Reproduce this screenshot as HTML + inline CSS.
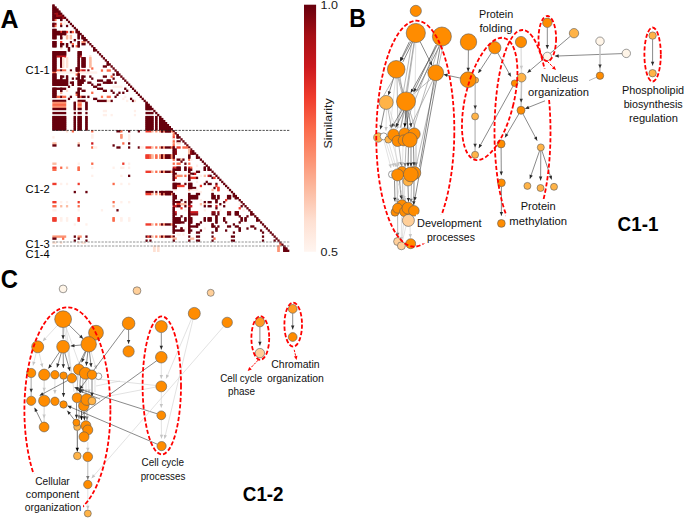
<!DOCTYPE html><html><head><meta charset="utf-8"><title>Figure</title><style>html,body{margin:0;padding:0;background:#fff;}body{width:685px;height:519px;overflow:hidden;font-family:"Liberation Sans",sans-serif;}</style></head><body><svg width="685" height="519" viewBox="0 0 685 519" style="display:block">
<defs><linearGradient id="cb" x1="0" y1="0" x2="0" y2="1"><stop offset="0" stop-color="#67000d"/><stop offset="0.125" stop-color="#a50f15"/><stop offset="0.25" stop-color="#cb181d"/><stop offset="0.375" stop-color="#ef3b2c"/><stop offset="0.5" stop-color="#fb6a4a"/><stop offset="0.625" stop-color="#fc9272"/><stop offset="0.75" stop-color="#fcbba1"/><stop offset="0.875" stop-color="#fee0d2"/><stop offset="1" stop-color="#fff5f0"/></linearGradient></defs>
<rect width="685" height="519" fill="#fff"/>
<g shape-rendering="auto"><rect x="52.35" y="4.53" width="2.24" height="2.38" fill="#67000d"/><rect x="52.35" y="6.56" width="4.18" height="2.38" fill="#67000d"/><rect x="52.35" y="8.58" width="6.12" height="2.38" fill="#67000d"/><rect x="52.35" y="10.61" width="8.06" height="2.38" fill="#67000d"/><rect x="52.35" y="12.63" width="2.24" height="2.38" fill="#67000d"/><rect x="54.29" y="12.63" width="4.18" height="2.38" fill="#a50f15"/><rect x="58.17" y="12.63" width="4.18" height="2.38" fill="#67000d"/><rect x="52.35" y="14.66" width="4.18" height="2.38" fill="#67000d"/><rect x="56.23" y="14.66" width="6.12" height="2.38" fill="#a50f15"/><rect x="62.05" y="14.66" width="2.24" height="2.38" fill="#67000d"/><rect x="52.35" y="16.68" width="10.00" height="2.38" fill="#67000d"/><rect x="62.05" y="16.68" width="2.24" height="2.38" fill="#a50f15"/><rect x="63.99" y="16.68" width="2.24" height="2.38" fill="#67000d"/><rect x="52.35" y="18.71" width="2.24" height="2.38" fill="#67000d"/><rect x="54.29" y="18.71" width="2.24" height="2.38" fill="#fb6a4a"/><rect x="60.11" y="18.71" width="2.24" height="2.38" fill="#67000d"/><rect x="65.93" y="18.71" width="2.24" height="2.38" fill="#67000d"/><rect x="63.99" y="20.73" width="2.24" height="2.38" fill="#fff0ea"/><rect x="67.87" y="20.73" width="2.24" height="2.38" fill="#67000d"/><rect x="52.35" y="22.76" width="2.24" height="2.38" fill="#67000d"/><rect x="54.29" y="22.76" width="2.24" height="2.38" fill="#8a0812"/><rect x="60.11" y="22.76" width="2.24" height="2.38" fill="#fb6a4a"/><rect x="62.05" y="22.76" width="4.18" height="2.38" fill="#fff0ea"/><rect x="69.81" y="22.76" width="2.24" height="2.38" fill="#67000d"/><rect x="52.35" y="24.78" width="2.24" height="2.38" fill="#67000d"/><rect x="54.29" y="24.78" width="2.24" height="2.38" fill="#fb6a4a"/><rect x="60.11" y="24.78" width="2.24" height="2.38" fill="#67000d"/><rect x="65.93" y="24.78" width="2.24" height="2.38" fill="#67000d"/><rect x="71.75" y="24.78" width="2.24" height="2.38" fill="#67000d"/><rect x="73.69" y="26.81" width="2.24" height="2.38" fill="#67000d"/><rect x="52.35" y="28.83" width="4.18" height="2.38" fill="#67000d"/><rect x="75.63" y="28.83" width="2.24" height="2.38" fill="#67000d"/><rect x="52.35" y="30.86" width="8.06" height="2.38" fill="#67000d"/><rect x="60.11" y="30.86" width="2.24" height="2.38" fill="#ef3b2c"/><rect x="62.05" y="30.86" width="4.18" height="2.38" fill="#67000d"/><rect x="65.93" y="30.86" width="2.24" height="2.38" fill="#ef3b2c"/><rect x="69.81" y="30.86" width="2.24" height="2.38" fill="#67000d"/><rect x="71.75" y="30.86" width="2.24" height="2.38" fill="#fb6a4a"/><rect x="75.63" y="30.86" width="4.18" height="2.38" fill="#67000d"/><rect x="52.35" y="32.89" width="13.88" height="2.38" fill="#67000d"/><rect x="77.57" y="32.89" width="4.18" height="2.38" fill="#67000d"/><rect x="52.35" y="34.91" width="4.18" height="2.38" fill="#67000d"/><rect x="60.11" y="34.91" width="2.24" height="2.38" fill="#67000d"/><rect x="62.05" y="34.91" width="2.24" height="2.38" fill="#fff0ea"/><rect x="65.93" y="34.91" width="2.24" height="2.38" fill="#fcbba1"/><rect x="69.81" y="34.91" width="2.24" height="2.38" fill="#fcbba1"/><rect x="77.57" y="34.91" width="2.24" height="2.38" fill="#67000d"/><rect x="81.45" y="34.91" width="2.24" height="2.38" fill="#67000d"/><rect x="52.35" y="36.94" width="4.18" height="2.38" fill="#67000d"/><rect x="60.11" y="36.94" width="2.24" height="2.38" fill="#67000d"/><rect x="65.93" y="36.94" width="2.24" height="2.38" fill="#fcbba1"/><rect x="69.81" y="36.94" width="2.24" height="2.38" fill="#fcbba1"/><rect x="77.57" y="36.94" width="2.24" height="2.38" fill="#67000d"/><rect x="81.45" y="36.94" width="4.18" height="2.38" fill="#67000d"/><rect x="73.69" y="38.96" width="2.24" height="2.38" fill="#67000d"/><rect x="83.39" y="38.96" width="4.18" height="2.38" fill="#67000d"/><rect x="52.35" y="40.99" width="4.18" height="2.38" fill="#67000d"/><rect x="60.11" y="40.99" width="2.24" height="2.38" fill="#ef3b2c"/><rect x="69.81" y="40.99" width="2.24" height="2.38" fill="#67000d"/><rect x="77.57" y="40.99" width="2.24" height="2.38" fill="#67000d"/><rect x="81.45" y="40.99" width="4.18" height="2.38" fill="#fc9272"/><rect x="87.27" y="40.99" width="2.24" height="2.38" fill="#67000d"/><rect x="52.35" y="43.01" width="4.18" height="2.38" fill="#67000d"/><rect x="60.11" y="43.01" width="4.18" height="2.38" fill="#67000d"/><rect x="65.93" y="43.01" width="2.24" height="2.38" fill="#67000d"/><rect x="71.75" y="43.01" width="2.24" height="2.38" fill="#fb6a4a"/><rect x="77.57" y="43.01" width="2.24" height="2.38" fill="#67000d"/><rect x="81.45" y="43.01" width="4.18" height="2.38" fill="#67000d"/><rect x="89.21" y="43.01" width="2.24" height="2.38" fill="#67000d"/><rect x="52.35" y="45.04" width="4.18" height="2.38" fill="#67000d"/><rect x="60.11" y="45.04" width="2.24" height="2.38" fill="#67000d"/><rect x="65.93" y="45.04" width="2.24" height="2.38" fill="#67000d"/><rect x="71.75" y="45.04" width="2.24" height="2.38" fill="#67000d"/><rect x="75.63" y="45.04" width="2.24" height="2.38" fill="#fb6a4a"/><rect x="77.57" y="45.04" width="2.24" height="2.38" fill="#67000d"/><rect x="91.15" y="45.04" width="2.24" height="2.38" fill="#67000d"/><rect x="60.11" y="47.06" width="2.24" height="2.38" fill="#fee0d2"/><rect x="67.87" y="47.06" width="2.24" height="2.38" fill="#67000d"/><rect x="93.09" y="47.06" width="2.24" height="2.38" fill="#67000d"/><rect x="67.87" y="49.09" width="2.24" height="2.38" fill="#67000d"/><rect x="93.09" y="49.09" width="4.18" height="2.38" fill="#67000d"/><rect x="52.35" y="51.11" width="13.88" height="2.38" fill="#67000d"/><rect x="77.57" y="51.11" width="4.18" height="2.38" fill="#67000d"/><rect x="96.97" y="51.11" width="2.24" height="2.38" fill="#67000d"/><rect x="52.35" y="53.14" width="13.88" height="2.38" fill="#67000d"/><rect x="77.57" y="53.14" width="4.18" height="2.38" fill="#67000d"/><rect x="98.91" y="53.14" width="2.24" height="2.38" fill="#67000d"/><rect x="52.35" y="55.17" width="4.18" height="2.38" fill="#67000d"/><rect x="56.23" y="55.17" width="10.00" height="2.38" fill="#cb181d"/><rect x="77.57" y="55.17" width="2.24" height="2.38" fill="#67000d"/><rect x="79.51" y="55.17" width="2.24" height="2.38" fill="#cb181d"/><rect x="89.21" y="55.17" width="2.24" height="2.38" fill="#fee0d2"/><rect x="100.85" y="55.17" width="2.24" height="2.38" fill="#67000d"/><rect x="52.35" y="57.19" width="4.18" height="2.38" fill="#67000d"/><rect x="60.11" y="57.19" width="2.24" height="2.38" fill="#67000d"/><rect x="62.05" y="57.19" width="2.24" height="2.38" fill="#fee0d2"/><rect x="65.93" y="57.19" width="2.24" height="2.38" fill="#fee0d2"/><rect x="77.57" y="57.19" width="2.24" height="2.38" fill="#67000d"/><rect x="81.45" y="57.19" width="4.18" height="2.38" fill="#67000d"/><rect x="89.21" y="57.19" width="2.24" height="2.38" fill="#fcbba1"/><rect x="102.79" y="57.19" width="2.24" height="2.38" fill="#67000d"/><rect x="52.35" y="59.22" width="4.18" height="2.38" fill="#67000d"/><rect x="60.11" y="59.22" width="2.24" height="2.38" fill="#67000d"/><rect x="62.05" y="59.22" width="2.24" height="2.38" fill="#fee0d2"/><rect x="65.93" y="59.22" width="2.24" height="2.38" fill="#fee0d2"/><rect x="77.57" y="59.22" width="2.24" height="2.38" fill="#67000d"/><rect x="81.45" y="59.22" width="4.18" height="2.38" fill="#67000d"/><rect x="89.21" y="59.22" width="2.24" height="2.38" fill="#fcbba1"/><rect x="104.73" y="59.22" width="2.24" height="2.38" fill="#67000d"/><rect x="52.35" y="61.24" width="4.18" height="2.38" fill="#67000d"/><rect x="60.11" y="61.24" width="2.24" height="2.38" fill="#67000d"/><rect x="62.05" y="61.24" width="2.24" height="2.38" fill="#fee0d2"/><rect x="65.93" y="61.24" width="2.24" height="2.38" fill="#fee0d2"/><rect x="77.57" y="61.24" width="2.24" height="2.38" fill="#67000d"/><rect x="81.45" y="61.24" width="4.18" height="2.38" fill="#67000d"/><rect x="89.21" y="61.24" width="2.24" height="2.38" fill="#fcbba1"/><rect x="106.67" y="61.24" width="2.24" height="2.38" fill="#67000d"/><rect x="52.35" y="63.27" width="4.18" height="2.38" fill="#67000d"/><rect x="60.11" y="63.27" width="2.24" height="2.38" fill="#67000d"/><rect x="62.05" y="63.27" width="2.24" height="2.38" fill="#fee0d2"/><rect x="65.93" y="63.27" width="2.24" height="2.38" fill="#fee0d2"/><rect x="77.57" y="63.27" width="2.24" height="2.38" fill="#67000d"/><rect x="81.45" y="63.27" width="4.18" height="2.38" fill="#67000d"/><rect x="89.21" y="63.27" width="2.24" height="2.38" fill="#fcbba1"/><rect x="106.67" y="63.27" width="4.18" height="2.38" fill="#67000d"/><rect x="52.35" y="65.29" width="4.18" height="2.38" fill="#67000d"/><rect x="60.11" y="65.29" width="2.24" height="2.38" fill="#67000d"/><rect x="62.05" y="65.29" width="2.24" height="2.38" fill="#fee0d2"/><rect x="65.93" y="65.29" width="2.24" height="2.38" fill="#fee0d2"/><rect x="77.57" y="65.29" width="2.24" height="2.38" fill="#67000d"/><rect x="81.45" y="65.29" width="4.18" height="2.38" fill="#67000d"/><rect x="89.21" y="65.29" width="2.24" height="2.38" fill="#fcbba1"/><rect x="102.79" y="65.29" width="4.18" height="2.38" fill="#67000d"/><rect x="110.55" y="65.29" width="2.24" height="2.38" fill="#67000d"/><rect x="52.35" y="67.32" width="4.18" height="2.38" fill="#67000d"/><rect x="75.63" y="67.32" width="4.18" height="2.38" fill="#67000d"/><rect x="91.15" y="67.32" width="2.24" height="2.38" fill="#fb6a4a"/><rect x="112.50" y="67.32" width="2.24" height="2.38" fill="#67000d"/><rect x="52.35" y="69.34" width="4.18" height="2.38" fill="#67000d"/><rect x="56.23" y="69.34" width="4.18" height="2.38" fill="#fb6a4a"/><rect x="60.11" y="69.34" width="2.24" height="2.38" fill="#67000d"/><rect x="62.05" y="69.34" width="4.18" height="2.38" fill="#fb6a4a"/><rect x="69.81" y="69.34" width="2.24" height="2.38" fill="#67000d"/><rect x="75.63" y="69.34" width="4.18" height="2.38" fill="#67000d"/><rect x="79.51" y="69.34" width="2.24" height="2.38" fill="#fb6a4a"/><rect x="81.45" y="69.34" width="4.18" height="2.38" fill="#cb181d"/><rect x="87.27" y="69.34" width="2.24" height="2.38" fill="#67000d"/><rect x="100.85" y="69.34" width="2.24" height="2.38" fill="#fb6a4a"/><rect x="106.67" y="69.34" width="4.18" height="2.38" fill="#fb6a4a"/><rect x="114.44" y="69.34" width="2.24" height="2.38" fill="#67000d"/><rect x="52.35" y="71.37" width="4.18" height="2.38" fill="#fb6a4a"/><rect x="56.23" y="71.37" width="19.70" height="2.38" fill="#fff0ea"/><rect x="77.57" y="71.37" width="2.24" height="2.38" fill="#fb6a4a"/><rect x="79.51" y="71.37" width="17.76" height="2.38" fill="#fff0ea"/><rect x="116.38" y="71.37" width="2.24" height="2.38" fill="#67000d"/><rect x="52.35" y="73.39" width="4.18" height="2.38" fill="#67000d"/><rect x="75.63" y="73.39" width="2.24" height="2.38" fill="#fb6a4a"/><rect x="77.57" y="73.39" width="2.24" height="2.38" fill="#67000d"/><rect x="112.50" y="73.39" width="2.24" height="2.38" fill="#67000d"/><rect x="116.38" y="73.39" width="4.18" height="2.38" fill="#67000d"/><rect x="52.35" y="75.42" width="4.18" height="2.38" fill="#67000d"/><rect x="60.11" y="75.42" width="4.18" height="2.38" fill="#67000d"/><rect x="65.93" y="75.42" width="2.24" height="2.38" fill="#67000d"/><rect x="77.57" y="75.42" width="2.24" height="2.38" fill="#67000d"/><rect x="81.45" y="75.42" width="4.18" height="2.38" fill="#67000d"/><rect x="89.21" y="75.42" width="2.24" height="2.38" fill="#67000d"/><rect x="102.79" y="75.42" width="4.18" height="2.38" fill="#67000d"/><rect x="110.55" y="75.42" width="2.24" height="2.38" fill="#fb6a4a"/><rect x="120.26" y="75.42" width="2.24" height="2.38" fill="#67000d"/><rect x="52.35" y="77.44" width="4.18" height="2.38" fill="#67000d"/><rect x="60.11" y="77.44" width="2.24" height="2.38" fill="#67000d"/><rect x="65.93" y="77.44" width="2.24" height="2.38" fill="#67000d"/><rect x="71.75" y="77.44" width="2.24" height="2.38" fill="#67000d"/><rect x="75.63" y="77.44" width="4.18" height="2.38" fill="#67000d"/><rect x="81.45" y="77.44" width="2.24" height="2.38" fill="#67000d"/><rect x="91.15" y="77.44" width="2.24" height="2.38" fill="#67000d"/><rect x="112.50" y="77.44" width="2.24" height="2.38" fill="#67000d"/><rect x="122.20" y="77.44" width="2.24" height="2.38" fill="#67000d"/><rect x="52.35" y="79.47" width="15.82" height="2.38" fill="#67000d"/><rect x="77.57" y="79.47" width="8.06" height="2.38" fill="#67000d"/><rect x="96.97" y="79.47" width="6.12" height="2.38" fill="#67000d"/><rect x="106.67" y="79.47" width="4.18" height="2.38" fill="#67000d"/><rect x="124.14" y="79.47" width="2.24" height="2.38" fill="#67000d"/><rect x="52.35" y="81.50" width="15.82" height="2.38" fill="#67000d"/><rect x="69.81" y="81.50" width="4.18" height="2.38" fill="#67000d"/><rect x="77.57" y="81.50" width="6.12" height="2.38" fill="#67000d"/><rect x="87.27" y="81.50" width="4.18" height="2.38" fill="#67000d"/><rect x="102.79" y="81.50" width="10.00" height="2.38" fill="#67000d"/><rect x="114.44" y="81.50" width="2.24" height="2.38" fill="#67000d"/><rect x="126.08" y="81.50" width="2.24" height="2.38" fill="#67000d"/><rect x="52.35" y="83.52" width="15.82" height="2.38" fill="#67000d"/><rect x="71.75" y="83.52" width="2.24" height="2.38" fill="#67000d"/><rect x="77.57" y="83.52" width="4.18" height="2.38" fill="#67000d"/><rect x="91.15" y="83.52" width="2.24" height="2.38" fill="#67000d"/><rect x="96.97" y="83.52" width="4.18" height="2.38" fill="#67000d"/><rect x="128.02" y="83.52" width="2.24" height="2.38" fill="#67000d"/><rect x="67.87" y="85.55" width="2.24" height="2.38" fill="#67000d"/><rect x="93.09" y="85.55" width="4.18" height="2.38" fill="#67000d"/><rect x="112.50" y="85.55" width="10.00" height="2.38" fill="#fff0ea"/><rect x="129.96" y="85.55" width="2.24" height="2.38" fill="#67000d"/><rect x="52.35" y="87.57" width="13.88" height="2.38" fill="#67000d"/><rect x="77.57" y="87.57" width="4.18" height="2.38" fill="#67000d"/><rect x="96.97" y="87.57" width="6.12" height="2.38" fill="#67000d"/><rect x="124.14" y="87.57" width="2.24" height="2.38" fill="#67000d"/><rect x="131.90" y="87.57" width="2.24" height="2.38" fill="#67000d"/><rect x="52.35" y="89.60" width="4.18" height="2.38" fill="#67000d"/><rect x="60.11" y="89.60" width="2.24" height="2.38" fill="#67000d"/><rect x="65.93" y="89.60" width="2.24" height="2.38" fill="#fee0d2"/><rect x="77.57" y="89.60" width="2.24" height="2.38" fill="#67000d"/><rect x="81.45" y="89.60" width="4.18" height="2.38" fill="#67000d"/><rect x="102.79" y="89.60" width="4.18" height="2.38" fill="#67000d"/><rect x="110.55" y="89.60" width="2.24" height="2.38" fill="#67000d"/><rect x="126.08" y="89.60" width="2.24" height="2.38" fill="#67000d"/><rect x="133.84" y="89.60" width="2.24" height="2.38" fill="#67000d"/><rect x="52.35" y="91.62" width="4.18" height="2.38" fill="#67000d"/><rect x="60.11" y="91.62" width="2.24" height="2.38" fill="#fcbba1"/><rect x="75.63" y="91.62" width="4.18" height="2.38" fill="#67000d"/><rect x="91.15" y="91.62" width="2.24" height="2.38" fill="#fb6a4a"/><rect x="112.50" y="91.62" width="2.24" height="2.38" fill="#67000d"/><rect x="118.32" y="91.62" width="2.24" height="2.38" fill="#67000d"/><rect x="122.20" y="91.62" width="2.24" height="2.38" fill="#67000d"/><rect x="135.78" y="91.62" width="2.24" height="2.38" fill="#67000d"/><rect x="52.35" y="93.65" width="4.18" height="2.38" fill="#67000d"/><rect x="75.63" y="93.65" width="2.24" height="2.38" fill="#fb6a4a"/><rect x="77.57" y="93.65" width="2.24" height="2.38" fill="#67000d"/><rect x="116.38" y="93.65" width="2.24" height="2.38" fill="#67000d"/><rect x="137.72" y="93.65" width="2.24" height="2.38" fill="#67000d"/><rect x="52.35" y="95.67" width="4.18" height="2.38" fill="#67000d"/><rect x="56.23" y="95.67" width="4.18" height="2.38" fill="#fb6a4a"/><rect x="60.11" y="95.67" width="2.24" height="2.38" fill="#67000d"/><rect x="62.05" y="95.67" width="4.18" height="2.38" fill="#fb6a4a"/><rect x="69.81" y="95.67" width="2.24" height="2.38" fill="#67000d"/><rect x="77.57" y="95.67" width="2.24" height="2.38" fill="#67000d"/><rect x="79.51" y="95.67" width="2.24" height="2.38" fill="#fb6a4a"/><rect x="81.45" y="95.67" width="4.18" height="2.38" fill="#67000d"/><rect x="87.27" y="95.67" width="2.24" height="2.38" fill="#67000d"/><rect x="100.85" y="95.67" width="2.24" height="2.38" fill="#fb6a4a"/><rect x="106.67" y="95.67" width="4.18" height="2.38" fill="#fb6a4a"/><rect x="114.44" y="95.67" width="2.24" height="2.38" fill="#67000d"/><rect x="124.14" y="95.67" width="2.24" height="2.38" fill="#fff0ea"/><rect x="139.66" y="95.67" width="2.24" height="2.38" fill="#67000d"/><rect x="67.87" y="97.70" width="2.24" height="2.38" fill="#67000d"/><rect x="93.09" y="97.70" width="4.18" height="2.38" fill="#67000d"/><rect x="122.20" y="97.70" width="2.24" height="2.38" fill="#fff0ea"/><rect x="129.96" y="97.70" width="2.24" height="2.38" fill="#67000d"/><rect x="141.60" y="97.70" width="2.24" height="2.38" fill="#67000d"/><rect x="52.35" y="99.72" width="13.88" height="2.38" fill="#67000d"/><rect x="77.57" y="99.72" width="8.06" height="2.38" fill="#67000d"/><rect x="96.97" y="99.72" width="10.00" height="2.38" fill="#67000d"/><rect x="106.67" y="99.72" width="4.18" height="2.38" fill="#fee0d2"/><rect x="110.55" y="99.72" width="2.24" height="2.38" fill="#67000d"/><rect x="126.08" y="99.72" width="2.24" height="2.38" fill="#fff0ea"/><rect x="131.90" y="99.72" width="2.24" height="2.38" fill="#67000d"/><rect x="133.84" y="99.72" width="2.24" height="2.38" fill="#fee0d2"/><rect x="143.54" y="99.72" width="2.24" height="2.38" fill="#67000d"/><rect x="52.35" y="101.75" width="13.88" height="2.38" fill="#fc9272"/><rect x="73.69" y="101.75" width="2.24" height="2.38" fill="#67000d"/><rect x="77.57" y="101.75" width="4.18" height="2.38" fill="#fc9272"/><rect x="85.33" y="101.75" width="2.24" height="2.38" fill="#67000d"/><rect x="145.48" y="101.75" width="2.24" height="2.38" fill="#67000d"/><rect x="52.35" y="103.78" width="13.88" height="2.38" fill="#fb6a4a"/><rect x="73.69" y="103.78" width="2.24" height="2.38" fill="#67000d"/><rect x="77.57" y="103.78" width="4.18" height="2.38" fill="#fb6a4a"/><rect x="85.33" y="103.78" width="2.24" height="2.38" fill="#67000d"/><rect x="145.48" y="103.78" width="4.18" height="2.38" fill="#67000d"/><rect x="52.35" y="105.80" width="13.88" height="2.38" fill="#fc9272"/><rect x="73.69" y="105.80" width="2.24" height="2.38" fill="#67000d"/><rect x="77.57" y="105.80" width="4.18" height="2.38" fill="#fc9272"/><rect x="85.33" y="105.80" width="2.24" height="2.38" fill="#67000d"/><rect x="145.48" y="105.80" width="6.12" height="2.38" fill="#67000d"/><rect x="52.35" y="107.83" width="13.88" height="2.38" fill="#67000d"/><rect x="73.69" y="107.83" width="2.24" height="2.38" fill="#67000d"/><rect x="77.57" y="107.83" width="4.18" height="2.38" fill="#67000d"/><rect x="85.33" y="107.83" width="2.24" height="2.38" fill="#67000d"/><rect x="145.48" y="107.83" width="8.06" height="2.38" fill="#67000d"/><rect x="102.79" y="109.85" width="4.18" height="2.38" fill="#fff0ea"/><rect x="133.84" y="109.85" width="2.24" height="2.38" fill="#fff0ea"/><rect x="153.24" y="109.85" width="2.24" height="2.38" fill="#67000d"/><rect x="52.35" y="111.88" width="13.88" height="2.38" fill="#67000d"/><rect x="73.69" y="111.88" width="2.24" height="2.38" fill="#67000d"/><rect x="77.57" y="111.88" width="4.18" height="2.38" fill="#67000d"/><rect x="85.33" y="111.88" width="2.24" height="2.38" fill="#67000d"/><rect x="145.48" y="111.88" width="8.06" height="2.38" fill="#67000d"/><rect x="155.18" y="111.88" width="2.24" height="2.38" fill="#67000d"/><rect x="102.79" y="113.90" width="4.18" height="2.38" fill="#fff0ea"/><rect x="110.55" y="113.90" width="2.24" height="2.38" fill="#fff0ea"/><rect x="133.84" y="113.90" width="2.24" height="2.38" fill="#fff0ea"/><rect x="157.12" y="113.90" width="2.24" height="2.38" fill="#67000d"/><rect x="52.35" y="115.93" width="13.88" height="2.38" fill="#67000d"/><rect x="73.69" y="115.93" width="2.24" height="2.38" fill="#67000d"/><rect x="77.57" y="115.93" width="4.18" height="2.38" fill="#67000d"/><rect x="85.33" y="115.93" width="2.24" height="2.38" fill="#67000d"/><rect x="145.48" y="115.93" width="8.06" height="2.38" fill="#67000d"/><rect x="155.18" y="115.93" width="2.24" height="2.38" fill="#67000d"/><rect x="159.06" y="115.93" width="2.24" height="2.38" fill="#67000d"/><rect x="52.35" y="117.95" width="13.88" height="2.38" fill="#67000d"/><rect x="73.69" y="117.95" width="2.24" height="2.38" fill="#67000d"/><rect x="77.57" y="117.95" width="4.18" height="2.38" fill="#67000d"/><rect x="85.33" y="117.95" width="2.24" height="2.38" fill="#67000d"/><rect x="145.48" y="117.95" width="8.06" height="2.38" fill="#67000d"/><rect x="155.18" y="117.95" width="2.24" height="2.38" fill="#67000d"/><rect x="159.06" y="117.95" width="4.18" height="2.38" fill="#67000d"/><rect x="52.35" y="119.98" width="13.88" height="2.38" fill="#67000d"/><rect x="73.69" y="119.98" width="2.24" height="2.38" fill="#67000d"/><rect x="77.57" y="119.98" width="4.18" height="2.38" fill="#67000d"/><rect x="85.33" y="119.98" width="2.24" height="2.38" fill="#67000d"/><rect x="145.48" y="119.98" width="8.06" height="2.38" fill="#67000d"/><rect x="155.18" y="119.98" width="2.24" height="2.38" fill="#67000d"/><rect x="159.06" y="119.98" width="6.12" height="2.38" fill="#67000d"/><rect x="52.35" y="122.00" width="13.88" height="2.38" fill="#67000d"/><rect x="73.69" y="122.00" width="2.24" height="2.38" fill="#67000d"/><rect x="77.57" y="122.00" width="4.18" height="2.38" fill="#67000d"/><rect x="85.33" y="122.00" width="2.24" height="2.38" fill="#67000d"/><rect x="145.48" y="122.00" width="8.06" height="2.38" fill="#67000d"/><rect x="155.18" y="122.00" width="2.24" height="2.38" fill="#67000d"/><rect x="159.06" y="122.00" width="8.06" height="2.38" fill="#67000d"/><rect x="52.35" y="124.03" width="13.88" height="2.38" fill="#67000d"/><rect x="73.69" y="124.03" width="2.24" height="2.38" fill="#67000d"/><rect x="77.57" y="124.03" width="4.18" height="2.38" fill="#67000d"/><rect x="85.33" y="124.03" width="2.24" height="2.38" fill="#67000d"/><rect x="145.48" y="124.03" width="8.06" height="2.38" fill="#67000d"/><rect x="155.18" y="124.03" width="2.24" height="2.38" fill="#67000d"/><rect x="159.06" y="124.03" width="10.00" height="2.38" fill="#67000d"/><rect x="52.35" y="126.05" width="13.88" height="2.38" fill="#67000d"/><rect x="73.69" y="126.05" width="2.24" height="2.38" fill="#67000d"/><rect x="77.57" y="126.05" width="4.18" height="2.38" fill="#67000d"/><rect x="85.33" y="126.05" width="2.24" height="2.38" fill="#67000d"/><rect x="145.48" y="126.05" width="8.06" height="2.38" fill="#67000d"/><rect x="155.18" y="126.05" width="2.24" height="2.38" fill="#67000d"/><rect x="159.06" y="126.05" width="11.94" height="2.38" fill="#67000d"/><rect x="52.35" y="128.08" width="13.88" height="2.38" fill="#67000d"/><rect x="73.69" y="128.08" width="2.24" height="2.38" fill="#67000d"/><rect x="77.57" y="128.08" width="4.18" height="2.38" fill="#67000d"/><rect x="85.33" y="128.08" width="2.24" height="2.38" fill="#67000d"/><rect x="145.48" y="128.08" width="8.06" height="2.38" fill="#67000d"/><rect x="155.18" y="128.08" width="2.24" height="2.38" fill="#67000d"/><rect x="159.06" y="128.08" width="13.88" height="2.38" fill="#67000d"/><rect x="65.93" y="130.11" width="2.24" height="2.38" fill="#fee0d2"/><rect x="71.75" y="130.11" width="2.24" height="2.38" fill="#fb6a4a"/><rect x="91.15" y="130.11" width="2.24" height="2.38" fill="#fb6a4a"/><rect x="116.38" y="130.11" width="4.18" height="2.38" fill="#67000d"/><rect x="120.26" y="130.11" width="2.24" height="2.38" fill="#fb6a4a"/><rect x="128.02" y="130.11" width="2.24" height="2.38" fill="#67000d"/><rect x="137.72" y="130.11" width="2.24" height="2.38" fill="#67000d"/><rect x="145.48" y="130.11" width="6.12" height="2.38" fill="#ef3b2c"/><rect x="151.30" y="130.11" width="2.24" height="2.38" fill="#fcbba1"/><rect x="155.18" y="130.11" width="2.24" height="2.38" fill="#fc9272"/><rect x="159.06" y="130.11" width="2.24" height="2.38" fill="#fc9272"/><rect x="161.00" y="130.11" width="2.24" height="2.38" fill="#67000d"/><rect x="162.94" y="130.11" width="2.24" height="2.38" fill="#fc9272"/><rect x="164.88" y="130.11" width="6.12" height="2.38" fill="#67000d"/><rect x="170.70" y="130.11" width="2.24" height="2.38" fill="#fc9272"/><rect x="172.64" y="130.11" width="2.24" height="2.38" fill="#67000d"/><rect x="172.64" y="132.13" width="2.24" height="2.38" fill="#fc9272"/><rect x="174.58" y="132.13" width="2.24" height="2.38" fill="#67000d"/><rect x="91.15" y="134.16" width="2.24" height="2.38" fill="#fff0ea"/><rect x="120.26" y="134.16" width="2.24" height="2.38" fill="#fc9272"/><rect x="128.02" y="134.16" width="2.24" height="2.38" fill="#fff0ea"/><rect x="172.64" y="134.16" width="2.24" height="2.38" fill="#fb6a4a"/><rect x="176.52" y="134.16" width="2.24" height="2.38" fill="#67000d"/><rect x="52.35" y="136.18" width="2.24" height="2.38" fill="#fff0ea"/><rect x="91.15" y="136.18" width="2.24" height="2.38" fill="#fff0ea"/><rect x="120.26" y="136.18" width="2.24" height="2.38" fill="#fc9272"/><rect x="128.02" y="136.18" width="2.24" height="2.38" fill="#fff0ea"/><rect x="172.64" y="136.18" width="2.24" height="2.38" fill="#ef3b2c"/><rect x="176.52" y="136.18" width="4.18" height="2.38" fill="#67000d"/><rect x="128.02" y="138.21" width="2.24" height="2.38" fill="#fff0ea"/><rect x="172.64" y="138.21" width="2.24" height="2.38" fill="#fee0d2"/><rect x="180.40" y="138.21" width="2.24" height="2.38" fill="#67000d"/><rect x="172.64" y="140.23" width="2.24" height="2.38" fill="#fb6a4a"/><rect x="176.52" y="140.23" width="4.18" height="2.38" fill="#67000d"/><rect x="182.34" y="140.23" width="2.24" height="2.38" fill="#67000d"/><rect x="52.35" y="142.26" width="4.18" height="2.38" fill="#fcbba1"/><rect x="77.57" y="142.26" width="2.24" height="2.38" fill="#fcbba1"/><rect x="91.15" y="142.26" width="2.24" height="2.38" fill="#cb181d"/><rect x="122.20" y="142.26" width="2.24" height="2.38" fill="#fb6a4a"/><rect x="128.02" y="142.26" width="2.24" height="2.38" fill="#67000d"/><rect x="172.64" y="142.26" width="2.24" height="2.38" fill="#fc9272"/><rect x="176.52" y="142.26" width="4.18" height="2.38" fill="#fee0d2"/><rect x="184.28" y="142.26" width="2.24" height="2.38" fill="#67000d"/><rect x="52.35" y="144.28" width="4.18" height="2.38" fill="#67000d"/><rect x="77.57" y="144.28" width="2.24" height="2.38" fill="#67000d"/><rect x="112.50" y="144.28" width="2.24" height="2.38" fill="#67000d"/><rect x="172.64" y="144.28" width="2.24" height="2.38" fill="#fb6a4a"/><rect x="186.22" y="144.28" width="2.24" height="2.38" fill="#67000d"/><rect x="91.15" y="146.31" width="2.24" height="2.38" fill="#fb6a4a"/><rect x="93.09" y="146.31" width="4.18" height="2.38" fill="#fff0ea"/><rect x="116.38" y="146.31" width="4.18" height="2.38" fill="#67000d"/><rect x="128.02" y="146.31" width="2.24" height="2.38" fill="#67000d"/><rect x="137.72" y="146.31" width="2.24" height="2.38" fill="#67000d"/><rect x="139.66" y="146.31" width="4.18" height="2.38" fill="#fff0ea"/><rect x="145.48" y="146.31" width="6.12" height="2.38" fill="#ef3b2c"/><rect x="151.30" y="146.31" width="2.24" height="2.38" fill="#fcbba1"/><rect x="155.18" y="146.31" width="2.24" height="2.38" fill="#fb6a4a"/><rect x="159.06" y="146.31" width="2.24" height="2.38" fill="#fc9272"/><rect x="161.00" y="146.31" width="2.24" height="2.38" fill="#67000d"/><rect x="162.94" y="146.31" width="2.24" height="2.38" fill="#fc9272"/><rect x="164.88" y="146.31" width="6.12" height="2.38" fill="#67000d"/><rect x="170.70" y="146.31" width="2.24" height="2.38" fill="#fb6a4a"/><rect x="172.64" y="146.31" width="2.24" height="2.38" fill="#67000d"/><rect x="174.58" y="146.31" width="2.24" height="2.38" fill="#fff0ea"/><rect x="176.52" y="146.31" width="4.18" height="2.38" fill="#ef3b2c"/><rect x="182.34" y="146.31" width="6.12" height="2.38" fill="#fb6a4a"/><rect x="188.16" y="146.31" width="2.24" height="2.38" fill="#67000d"/><rect x="172.64" y="148.33" width="4.18" height="2.38" fill="#67000d"/><rect x="188.16" y="148.33" width="2.24" height="2.38" fill="#fcbba1"/><rect x="190.10" y="148.33" width="2.24" height="2.38" fill="#67000d"/><rect x="172.64" y="150.36" width="2.24" height="2.38" fill="#67000d"/><rect x="174.58" y="150.36" width="2.24" height="2.38" fill="#8a0812"/><rect x="188.16" y="150.36" width="2.24" height="2.38" fill="#fcbba1"/><rect x="190.10" y="150.36" width="2.24" height="2.38" fill="#8a0812"/><rect x="192.04" y="150.36" width="2.24" height="2.38" fill="#67000d"/><rect x="172.64" y="152.38" width="2.24" height="2.38" fill="#67000d"/><rect x="174.58" y="152.38" width="2.24" height="2.38" fill="#8a0812"/><rect x="188.16" y="152.38" width="2.24" height="2.38" fill="#fcbba1"/><rect x="190.10" y="152.38" width="2.24" height="2.38" fill="#8a0812"/><rect x="192.04" y="152.38" width="4.18" height="2.38" fill="#67000d"/><rect x="145.48" y="154.41" width="4.18" height="2.38" fill="#ef3b2c"/><rect x="149.36" y="154.41" width="2.24" height="2.38" fill="#fb6a4a"/><rect x="151.30" y="154.41" width="2.24" height="2.38" fill="#fcbba1"/><rect x="155.18" y="154.41" width="2.24" height="2.38" fill="#fb6a4a"/><rect x="159.06" y="154.41" width="2.24" height="2.38" fill="#fc9272"/><rect x="161.00" y="154.41" width="2.24" height="2.38" fill="#67000d"/><rect x="162.94" y="154.41" width="2.24" height="2.38" fill="#fc9272"/><rect x="164.88" y="154.41" width="6.12" height="2.38" fill="#67000d"/><rect x="170.70" y="154.41" width="2.24" height="2.38" fill="#fc9272"/><rect x="172.64" y="154.41" width="2.24" height="2.38" fill="#67000d"/><rect x="188.16" y="154.41" width="2.24" height="2.38" fill="#67000d"/><rect x="195.92" y="154.41" width="2.24" height="2.38" fill="#67000d"/><rect x="145.48" y="156.44" width="4.18" height="2.38" fill="#ef3b2c"/><rect x="149.36" y="156.44" width="2.24" height="2.38" fill="#fb6a4a"/><rect x="151.30" y="156.44" width="2.24" height="2.38" fill="#fcbba1"/><rect x="155.18" y="156.44" width="2.24" height="2.38" fill="#fb6a4a"/><rect x="159.06" y="156.44" width="2.24" height="2.38" fill="#fc9272"/><rect x="161.00" y="156.44" width="2.24" height="2.38" fill="#67000d"/><rect x="162.94" y="156.44" width="2.24" height="2.38" fill="#fc9272"/><rect x="164.88" y="156.44" width="6.12" height="2.38" fill="#67000d"/><rect x="170.70" y="156.44" width="2.24" height="2.38" fill="#fc9272"/><rect x="172.64" y="156.44" width="2.24" height="2.38" fill="#67000d"/><rect x="188.16" y="156.44" width="2.24" height="2.38" fill="#67000d"/><rect x="195.92" y="156.44" width="4.18" height="2.38" fill="#67000d"/><rect x="172.64" y="158.46" width="2.24" height="2.38" fill="#fb6a4a"/><rect x="176.52" y="158.46" width="4.18" height="2.38" fill="#67000d"/><rect x="180.40" y="158.46" width="2.24" height="2.38" fill="#fcbba1"/><rect x="182.34" y="158.46" width="2.24" height="2.38" fill="#67000d"/><rect x="188.16" y="158.46" width="2.24" height="2.38" fill="#fb6a4a"/><rect x="190.10" y="158.46" width="2.24" height="2.38" fill="#fff0ea"/><rect x="199.80" y="158.46" width="2.24" height="2.38" fill="#67000d"/><rect x="180.40" y="160.49" width="2.24" height="2.38" fill="#67000d"/><rect x="201.74" y="160.49" width="2.24" height="2.38" fill="#67000d"/><rect x="52.35" y="162.51" width="4.18" height="2.38" fill="#fcbba1"/><rect x="77.57" y="162.51" width="2.24" height="2.38" fill="#fff0ea"/><rect x="91.15" y="162.51" width="2.24" height="2.38" fill="#fb6a4a"/><rect x="122.20" y="162.51" width="2.24" height="2.38" fill="#ef3b2c"/><rect x="128.02" y="162.51" width="2.24" height="2.38" fill="#fff0ea"/><rect x="172.64" y="162.51" width="2.24" height="2.38" fill="#fb6a4a"/><rect x="176.52" y="162.51" width="4.18" height="2.38" fill="#fb6a4a"/><rect x="184.28" y="162.51" width="2.24" height="2.38" fill="#67000d"/><rect x="188.16" y="162.51" width="2.24" height="2.38" fill="#fb6a4a"/><rect x="203.68" y="162.51" width="2.24" height="2.38" fill="#67000d"/><rect x="195.92" y="164.54" width="2.24" height="2.38" fill="#fff0ea"/><rect x="205.62" y="164.54" width="2.24" height="2.38" fill="#67000d"/><rect x="52.35" y="166.56" width="4.18" height="2.38" fill="#ef3b2c"/><rect x="60.11" y="166.56" width="2.24" height="2.38" fill="#fb6a4a"/><rect x="65.93" y="166.56" width="2.24" height="2.38" fill="#fcbba1"/><rect x="77.57" y="166.56" width="2.24" height="2.38" fill="#fb6a4a"/><rect x="91.15" y="166.56" width="2.24" height="2.38" fill="#fff0ea"/><rect x="112.50" y="166.56" width="2.24" height="2.38" fill="#fff0ea"/><rect x="120.26" y="166.56" width="4.18" height="2.38" fill="#fff0ea"/><rect x="128.02" y="166.56" width="2.24" height="2.38" fill="#fff0ea"/><rect x="172.64" y="166.56" width="2.24" height="2.38" fill="#cb181d"/><rect x="174.58" y="166.56" width="2.24" height="2.38" fill="#ef3b2c"/><rect x="176.52" y="166.56" width="4.18" height="2.38" fill="#67000d"/><rect x="184.28" y="166.56" width="2.24" height="2.38" fill="#67000d"/><rect x="188.16" y="166.56" width="2.24" height="2.38" fill="#cb181d"/><rect x="190.10" y="166.56" width="2.24" height="2.38" fill="#fb6a4a"/><rect x="203.68" y="166.56" width="2.24" height="2.38" fill="#67000d"/><rect x="207.56" y="166.56" width="2.24" height="2.38" fill="#67000d"/><rect x="52.35" y="168.59" width="4.18" height="2.38" fill="#fb6a4a"/><rect x="77.57" y="168.59" width="2.24" height="2.38" fill="#fb6a4a"/><rect x="172.64" y="168.59" width="8.06" height="2.38" fill="#67000d"/><rect x="184.28" y="168.59" width="2.24" height="2.38" fill="#67000d"/><rect x="188.16" y="168.59" width="4.18" height="2.38" fill="#67000d"/><rect x="203.68" y="168.59" width="2.24" height="2.38" fill="#67000d"/><rect x="207.56" y="168.59" width="4.18" height="2.38" fill="#67000d"/><rect x="145.48" y="170.61" width="6.12" height="2.38" fill="#ef3b2c"/><rect x="151.30" y="170.61" width="2.24" height="2.38" fill="#fcbba1"/><rect x="155.18" y="170.61" width="2.24" height="2.38" fill="#fb6a4a"/><rect x="159.06" y="170.61" width="2.24" height="2.38" fill="#fc9272"/><rect x="161.00" y="170.61" width="2.24" height="2.38" fill="#67000d"/><rect x="162.94" y="170.61" width="2.24" height="2.38" fill="#fc9272"/><rect x="164.88" y="170.61" width="6.12" height="2.38" fill="#67000d"/><rect x="170.70" y="170.61" width="2.24" height="2.38" fill="#fc9272"/><rect x="172.64" y="170.61" width="2.24" height="2.38" fill="#67000d"/><rect x="188.16" y="170.61" width="2.24" height="2.38" fill="#67000d"/><rect x="195.92" y="170.61" width="4.18" height="2.38" fill="#67000d"/><rect x="211.44" y="170.61" width="2.24" height="2.38" fill="#67000d"/><rect x="172.64" y="172.64" width="4.18" height="2.38" fill="#67000d"/><rect x="188.16" y="172.64" width="2.24" height="2.38" fill="#fcbba1"/><rect x="190.10" y="172.64" width="4.18" height="2.38" fill="#67000d"/><rect x="193.98" y="172.64" width="2.24" height="2.38" fill="#cb181d"/><rect x="213.38" y="172.64" width="2.24" height="2.38" fill="#67000d"/><rect x="91.15" y="174.66" width="2.24" height="2.38" fill="#fff0ea"/><rect x="120.26" y="174.66" width="2.24" height="2.38" fill="#fff0ea"/><rect x="128.02" y="174.66" width="2.24" height="2.38" fill="#67000d"/><rect x="172.64" y="174.66" width="2.24" height="2.38" fill="#67000d"/><rect x="174.58" y="174.66" width="2.24" height="2.38" fill="#fcbba1"/><rect x="176.52" y="174.66" width="6.12" height="2.38" fill="#fc9272"/><rect x="184.28" y="174.66" width="2.24" height="2.38" fill="#fb6a4a"/><rect x="188.16" y="174.66" width="2.24" height="2.38" fill="#67000d"/><rect x="190.10" y="174.66" width="2.24" height="2.38" fill="#fff0ea"/><rect x="199.80" y="174.66" width="2.24" height="2.38" fill="#fff0ea"/><rect x="203.68" y="174.66" width="2.24" height="2.38" fill="#fcbba1"/><rect x="207.56" y="174.66" width="2.24" height="2.38" fill="#cb181d"/><rect x="209.50" y="174.66" width="2.24" height="2.38" fill="#67000d"/><rect x="215.32" y="174.66" width="2.24" height="2.38" fill="#67000d"/><rect x="172.64" y="176.69" width="2.24" height="2.38" fill="#67000d"/><rect x="174.58" y="176.69" width="2.24" height="2.38" fill="#ef3b2c"/><rect x="188.16" y="176.69" width="2.24" height="2.38" fill="#67000d"/><rect x="190.10" y="176.69" width="6.12" height="2.38" fill="#ef3b2c"/><rect x="195.92" y="176.69" width="2.24" height="2.38" fill="#67000d"/><rect x="211.44" y="176.69" width="2.24" height="2.38" fill="#67000d"/><rect x="213.38" y="176.69" width="2.24" height="2.38" fill="#ef3b2c"/><rect x="217.26" y="176.69" width="2.24" height="2.38" fill="#67000d"/><rect x="172.64" y="178.72" width="2.24" height="2.38" fill="#67000d"/><rect x="188.16" y="178.72" width="2.24" height="2.38" fill="#67000d"/><rect x="219.20" y="178.72" width="2.24" height="2.38" fill="#67000d"/><rect x="195.92" y="180.74" width="2.24" height="2.38" fill="#fff0ea"/><rect x="205.62" y="180.74" width="2.24" height="2.38" fill="#67000d"/><rect x="221.14" y="180.74" width="2.24" height="2.38" fill="#67000d"/><rect x="52.35" y="182.77" width="4.18" height="2.38" fill="#ef3b2c"/><rect x="60.11" y="182.77" width="2.24" height="2.38" fill="#fff0ea"/><rect x="65.93" y="182.77" width="2.24" height="2.38" fill="#fff0ea"/><rect x="77.57" y="182.77" width="2.24" height="2.38" fill="#ef3b2c"/><rect x="112.50" y="182.77" width="2.24" height="2.38" fill="#fb6a4a"/><rect x="120.26" y="182.77" width="2.24" height="2.38" fill="#fff0ea"/><rect x="128.02" y="182.77" width="2.24" height="2.38" fill="#fff0ea"/><rect x="172.64" y="182.77" width="8.06" height="2.38" fill="#67000d"/><rect x="184.28" y="182.77" width="2.24" height="2.38" fill="#67000d"/><rect x="188.16" y="182.77" width="4.18" height="2.38" fill="#67000d"/><rect x="203.68" y="182.77" width="2.24" height="2.38" fill="#67000d"/><rect x="207.56" y="182.77" width="4.18" height="2.38" fill="#67000d"/><rect x="215.32" y="182.77" width="2.24" height="2.38" fill="#67000d"/><rect x="223.08" y="182.77" width="2.24" height="2.38" fill="#67000d"/><rect x="172.64" y="184.79" width="4.18" height="2.38" fill="#67000d"/><rect x="176.52" y="184.79" width="8.06" height="2.38" fill="#ef3b2c"/><rect x="188.16" y="184.79" width="4.18" height="2.38" fill="#67000d"/><rect x="199.80" y="184.79" width="2.24" height="2.38" fill="#ef3b2c"/><rect x="215.32" y="184.79" width="2.24" height="2.38" fill="#ef3b2c"/><rect x="225.02" y="184.79" width="2.24" height="2.38" fill="#67000d"/><rect x="172.64" y="186.82" width="4.18" height="2.38" fill="#67000d"/><rect x="188.16" y="186.82" width="8.06" height="2.38" fill="#67000d"/><rect x="213.38" y="186.82" width="2.24" height="2.38" fill="#67000d"/><rect x="217.26" y="186.82" width="2.24" height="2.38" fill="#ef3b2c"/><rect x="226.96" y="186.82" width="2.24" height="2.38" fill="#67000d"/><rect x="172.64" y="188.84" width="4.18" height="2.38" fill="#fff0ea"/><rect x="188.16" y="188.84" width="2.24" height="2.38" fill="#fcbba1"/><rect x="190.10" y="188.84" width="8.06" height="2.38" fill="#fff0ea"/><rect x="211.44" y="188.84" width="2.24" height="2.38" fill="#fcbba1"/><rect x="217.26" y="188.84" width="2.24" height="2.38" fill="#ef3b2c"/><rect x="226.96" y="188.84" width="2.24" height="2.38" fill="#fff0ea"/><rect x="228.90" y="188.84" width="2.24" height="2.38" fill="#67000d"/><rect x="73.69" y="190.87" width="2.24" height="2.38" fill="#67000d"/><rect x="85.33" y="190.87" width="2.24" height="2.38" fill="#67000d"/><rect x="145.48" y="190.87" width="8.06" height="2.38" fill="#67000d"/><rect x="155.18" y="190.87" width="2.24" height="2.38" fill="#67000d"/><rect x="159.06" y="190.87" width="13.88" height="2.38" fill="#67000d"/><rect x="197.86" y="190.87" width="4.18" height="2.38" fill="#fff0ea"/><rect x="230.85" y="190.87" width="2.24" height="2.38" fill="#67000d"/><rect x="145.48" y="192.89" width="6.12" height="2.38" fill="#ef3b2c"/><rect x="151.30" y="192.89" width="2.24" height="2.38" fill="#fcbba1"/><rect x="155.18" y="192.89" width="2.24" height="2.38" fill="#fc9272"/><rect x="159.06" y="192.89" width="2.24" height="2.38" fill="#fc9272"/><rect x="161.00" y="192.89" width="2.24" height="2.38" fill="#67000d"/><rect x="162.94" y="192.89" width="2.24" height="2.38" fill="#fc9272"/><rect x="164.88" y="192.89" width="6.12" height="2.38" fill="#67000d"/><rect x="170.70" y="192.89" width="2.24" height="2.38" fill="#fc9272"/><rect x="172.64" y="192.89" width="2.24" height="2.38" fill="#67000d"/><rect x="188.16" y="192.89" width="2.24" height="2.38" fill="#67000d"/><rect x="195.92" y="192.89" width="4.18" height="2.38" fill="#67000d"/><rect x="211.44" y="192.89" width="2.24" height="2.38" fill="#67000d"/><rect x="232.79" y="192.89" width="2.24" height="2.38" fill="#67000d"/><rect x="172.64" y="194.92" width="4.18" height="2.38" fill="#67000d"/><rect x="188.16" y="194.92" width="10.00" height="2.38" fill="#67000d"/><rect x="211.44" y="194.92" width="4.18" height="2.38" fill="#67000d"/><rect x="217.26" y="194.92" width="2.24" height="2.38" fill="#67000d"/><rect x="226.96" y="194.92" width="4.18" height="2.38" fill="#67000d"/><rect x="232.79" y="194.92" width="4.18" height="2.38" fill="#67000d"/><rect x="172.64" y="196.94" width="4.18" height="2.38" fill="#67000d"/><rect x="188.16" y="196.94" width="10.00" height="2.38" fill="#67000d"/><rect x="211.44" y="196.94" width="4.18" height="2.38" fill="#67000d"/><rect x="217.26" y="196.94" width="2.24" height="2.38" fill="#67000d"/><rect x="226.96" y="196.94" width="4.18" height="2.38" fill="#67000d"/><rect x="234.73" y="196.94" width="4.18" height="2.38" fill="#67000d"/><rect x="172.64" y="198.97" width="2.24" height="2.38" fill="#67000d"/><rect x="176.52" y="198.97" width="4.18" height="2.38" fill="#fff0ea"/><rect x="180.40" y="198.97" width="2.24" height="2.38" fill="#67000d"/><rect x="184.28" y="198.97" width="2.24" height="2.38" fill="#fff0ea"/><rect x="188.16" y="198.97" width="2.24" height="2.38" fill="#67000d"/><rect x="199.80" y="198.97" width="2.24" height="2.38" fill="#fff0ea"/><rect x="215.32" y="198.97" width="2.24" height="2.38" fill="#67000d"/><rect x="225.02" y="198.97" width="2.24" height="2.38" fill="#ef3b2c"/><rect x="238.61" y="198.97" width="2.24" height="2.38" fill="#67000d"/><rect x="52.35" y="200.99" width="4.18" height="2.38" fill="#ef3b2c"/><rect x="60.11" y="200.99" width="2.24" height="2.38" fill="#fff0ea"/><rect x="65.93" y="200.99" width="2.24" height="2.38" fill="#fff0ea"/><rect x="77.57" y="200.99" width="2.24" height="2.38" fill="#ef3b2c"/><rect x="112.50" y="200.99" width="2.24" height="2.38" fill="#fb6a4a"/><rect x="120.26" y="200.99" width="2.24" height="2.38" fill="#fff0ea"/><rect x="128.02" y="200.99" width="2.24" height="2.38" fill="#fff0ea"/><rect x="172.64" y="200.99" width="8.06" height="2.38" fill="#67000d"/><rect x="184.28" y="200.99" width="2.24" height="2.38" fill="#67000d"/><rect x="188.16" y="200.99" width="4.18" height="2.38" fill="#67000d"/><rect x="203.68" y="200.99" width="2.24" height="2.38" fill="#67000d"/><rect x="207.56" y="200.99" width="4.18" height="2.38" fill="#67000d"/><rect x="215.32" y="200.99" width="2.24" height="2.38" fill="#67000d"/><rect x="223.08" y="200.99" width="2.24" height="2.38" fill="#67000d"/><rect x="240.55" y="200.99" width="2.24" height="2.38" fill="#67000d"/><rect x="172.64" y="203.02" width="2.24" height="2.38" fill="#67000d"/><rect x="174.58" y="203.02" width="2.24" height="2.38" fill="#fff0ea"/><rect x="176.52" y="203.02" width="4.18" height="2.38" fill="#ef3b2c"/><rect x="180.40" y="203.02" width="6.12" height="2.38" fill="#fcbba1"/><rect x="188.16" y="203.02" width="2.24" height="2.38" fill="#67000d"/><rect x="199.80" y="203.02" width="2.24" height="2.38" fill="#fcbba1"/><rect x="203.68" y="203.02" width="2.24" height="2.38" fill="#fcbba1"/><rect x="215.32" y="203.02" width="2.24" height="2.38" fill="#fff0ea"/><rect x="219.20" y="203.02" width="2.24" height="2.38" fill="#67000d"/><rect x="238.61" y="203.02" width="2.24" height="2.38" fill="#fff0ea"/><rect x="242.49" y="203.02" width="2.24" height="2.38" fill="#67000d"/><rect x="52.35" y="205.05" width="4.18" height="2.38" fill="#fb6a4a"/><rect x="60.11" y="205.05" width="2.24" height="2.38" fill="#fcbba1"/><rect x="65.93" y="205.05" width="2.24" height="2.38" fill="#fcbba1"/><rect x="77.57" y="205.05" width="2.24" height="2.38" fill="#fb6a4a"/><rect x="112.50" y="205.05" width="2.24" height="2.38" fill="#fcbba1"/><rect x="172.64" y="205.05" width="4.18" height="2.38" fill="#cb181d"/><rect x="176.52" y="205.05" width="4.18" height="2.38" fill="#67000d"/><rect x="184.28" y="205.05" width="2.24" height="2.38" fill="#67000d"/><rect x="188.16" y="205.05" width="4.18" height="2.38" fill="#cb181d"/><rect x="203.68" y="205.05" width="2.24" height="2.38" fill="#67000d"/><rect x="207.56" y="205.05" width="4.18" height="2.38" fill="#67000d"/><rect x="215.32" y="205.05" width="2.24" height="2.38" fill="#cb181d"/><rect x="223.08" y="205.05" width="2.24" height="2.38" fill="#67000d"/><rect x="240.55" y="205.05" width="2.24" height="2.38" fill="#67000d"/><rect x="244.43" y="205.05" width="2.24" height="2.38" fill="#67000d"/><rect x="172.64" y="207.07" width="2.24" height="2.38" fill="#67000d"/><rect x="180.40" y="207.07" width="2.24" height="2.38" fill="#ef3b2c"/><rect x="188.16" y="207.07" width="2.24" height="2.38" fill="#67000d"/><rect x="215.32" y="207.07" width="2.24" height="2.38" fill="#67000d"/><rect x="238.61" y="207.07" width="2.24" height="2.38" fill="#ef3b2c"/><rect x="246.37" y="207.07" width="2.24" height="2.38" fill="#67000d"/><rect x="52.35" y="209.10" width="4.18" height="2.38" fill="#fff0ea"/><rect x="77.57" y="209.10" width="2.24" height="2.38" fill="#fff0ea"/><rect x="100.85" y="209.10" width="2.24" height="2.38" fill="#fff0ea"/><rect x="116.38" y="209.10" width="2.24" height="2.38" fill="#67000d"/><rect x="172.64" y="209.10" width="2.24" height="2.38" fill="#67000d"/><rect x="184.28" y="209.10" width="2.24" height="2.38" fill="#fff0ea"/><rect x="188.16" y="209.10" width="2.24" height="2.38" fill="#67000d"/><rect x="203.68" y="209.10" width="2.24" height="2.38" fill="#fff0ea"/><rect x="219.20" y="209.10" width="2.24" height="2.38" fill="#fff0ea"/><rect x="242.49" y="209.10" width="2.24" height="2.38" fill="#fff0ea"/><rect x="248.31" y="209.10" width="2.24" height="2.38" fill="#67000d"/><rect x="172.64" y="211.12" width="2.24" height="2.38" fill="#67000d"/><rect x="174.58" y="211.12" width="2.24" height="2.38" fill="#cb181d"/><rect x="188.16" y="211.12" width="2.24" height="2.38" fill="#67000d"/><rect x="190.10" y="211.12" width="8.06" height="2.38" fill="#cb181d"/><rect x="211.44" y="211.12" width="4.18" height="2.38" fill="#8a0812"/><rect x="217.26" y="211.12" width="2.24" height="2.38" fill="#8a0812"/><rect x="226.96" y="211.12" width="4.18" height="2.38" fill="#8a0812"/><rect x="234.73" y="211.12" width="4.18" height="2.38" fill="#67000d"/><rect x="250.25" y="211.12" width="2.24" height="2.38" fill="#67000d"/><rect x="172.64" y="213.15" width="2.24" height="2.38" fill="#67000d"/><rect x="174.58" y="213.15" width="2.24" height="2.38" fill="#8a0812"/><rect x="188.16" y="213.15" width="2.24" height="2.38" fill="#67000d"/><rect x="190.10" y="213.15" width="8.06" height="2.38" fill="#8a0812"/><rect x="211.44" y="213.15" width="4.18" height="2.38" fill="#67000d"/><rect x="217.26" y="213.15" width="2.24" height="2.38" fill="#67000d"/><rect x="226.96" y="213.15" width="4.18" height="2.38" fill="#67000d"/><rect x="234.73" y="213.15" width="4.18" height="2.38" fill="#67000d"/><rect x="250.25" y="213.15" width="4.18" height="2.38" fill="#67000d"/><rect x="172.64" y="215.17" width="2.24" height="2.38" fill="#67000d"/><rect x="180.40" y="215.17" width="2.24" height="2.38" fill="#67000d"/><rect x="188.16" y="215.17" width="2.24" height="2.38" fill="#67000d"/><rect x="215.32" y="215.17" width="2.24" height="2.38" fill="#67000d"/><rect x="238.61" y="215.17" width="2.24" height="2.38" fill="#67000d"/><rect x="246.37" y="215.17" width="2.24" height="2.38" fill="#67000d"/><rect x="254.13" y="215.17" width="2.24" height="2.38" fill="#67000d"/><rect x="52.35" y="217.20" width="4.18" height="2.38" fill="#ef3b2c"/><rect x="60.11" y="217.20" width="2.24" height="2.38" fill="#fff0ea"/><rect x="65.93" y="217.20" width="2.24" height="2.38" fill="#fff0ea"/><rect x="77.57" y="217.20" width="2.24" height="2.38" fill="#ef3b2c"/><rect x="112.50" y="217.20" width="2.24" height="2.38" fill="#fb6a4a"/><rect x="120.26" y="217.20" width="2.24" height="2.38" fill="#fff0ea"/><rect x="128.02" y="217.20" width="2.24" height="2.38" fill="#fff0ea"/><rect x="172.64" y="217.20" width="8.06" height="2.38" fill="#67000d"/><rect x="184.28" y="217.20" width="2.24" height="2.38" fill="#67000d"/><rect x="188.16" y="217.20" width="4.18" height="2.38" fill="#67000d"/><rect x="203.68" y="217.20" width="2.24" height="2.38" fill="#67000d"/><rect x="207.56" y="217.20" width="4.18" height="2.38" fill="#67000d"/><rect x="215.32" y="217.20" width="2.24" height="2.38" fill="#67000d"/><rect x="223.08" y="217.20" width="2.24" height="2.38" fill="#67000d"/><rect x="240.55" y="217.20" width="2.24" height="2.38" fill="#67000d"/><rect x="244.43" y="217.20" width="2.24" height="2.38" fill="#67000d"/><rect x="256.07" y="217.20" width="2.24" height="2.38" fill="#67000d"/><rect x="52.35" y="219.22" width="4.18" height="2.38" fill="#ef3b2c"/><rect x="60.11" y="219.22" width="2.24" height="2.38" fill="#fff0ea"/><rect x="65.93" y="219.22" width="2.24" height="2.38" fill="#fff0ea"/><rect x="77.57" y="219.22" width="2.24" height="2.38" fill="#ef3b2c"/><rect x="112.50" y="219.22" width="2.24" height="2.38" fill="#fb6a4a"/><rect x="120.26" y="219.22" width="2.24" height="2.38" fill="#fff0ea"/><rect x="128.02" y="219.22" width="2.24" height="2.38" fill="#fff0ea"/><rect x="172.64" y="219.22" width="8.06" height="2.38" fill="#67000d"/><rect x="184.28" y="219.22" width="2.24" height="2.38" fill="#67000d"/><rect x="188.16" y="219.22" width="4.18" height="2.38" fill="#67000d"/><rect x="203.68" y="219.22" width="2.24" height="2.38" fill="#67000d"/><rect x="207.56" y="219.22" width="4.18" height="2.38" fill="#67000d"/><rect x="215.32" y="219.22" width="2.24" height="2.38" fill="#67000d"/><rect x="223.08" y="219.22" width="2.24" height="2.38" fill="#67000d"/><rect x="240.55" y="219.22" width="2.24" height="2.38" fill="#67000d"/><rect x="244.43" y="219.22" width="2.24" height="2.38" fill="#67000d"/><rect x="256.07" y="219.22" width="4.18" height="2.38" fill="#67000d"/><rect x="172.64" y="221.25" width="11.94" height="2.38" fill="#67000d"/><rect x="188.16" y="221.25" width="4.18" height="2.38" fill="#67000d"/><rect x="199.80" y="221.25" width="2.24" height="2.38" fill="#67000d"/><rect x="215.32" y="221.25" width="2.24" height="2.38" fill="#67000d"/><rect x="225.02" y="221.25" width="2.24" height="2.38" fill="#67000d"/><rect x="238.61" y="221.25" width="2.24" height="2.38" fill="#67000d"/><rect x="259.95" y="221.25" width="2.24" height="2.38" fill="#67000d"/><rect x="73.69" y="223.27" width="2.24" height="2.38" fill="#fff0ea"/><rect x="85.33" y="223.27" width="2.24" height="2.38" fill="#fff0ea"/><rect x="145.48" y="223.27" width="6.12" height="2.38" fill="#ef3b2c"/><rect x="151.30" y="223.27" width="2.24" height="2.38" fill="#fcbba1"/><rect x="155.18" y="223.27" width="2.24" height="2.38" fill="#fb6a4a"/><rect x="159.06" y="223.27" width="2.24" height="2.38" fill="#fc9272"/><rect x="161.00" y="223.27" width="2.24" height="2.38" fill="#67000d"/><rect x="162.94" y="223.27" width="2.24" height="2.38" fill="#fc9272"/><rect x="164.88" y="223.27" width="6.12" height="2.38" fill="#67000d"/><rect x="170.70" y="223.27" width="2.24" height="2.38" fill="#fc9272"/><rect x="172.64" y="223.27" width="2.24" height="2.38" fill="#67000d"/><rect x="188.16" y="223.27" width="2.24" height="2.38" fill="#67000d"/><rect x="195.92" y="223.27" width="4.18" height="2.38" fill="#67000d"/><rect x="211.44" y="223.27" width="2.24" height="2.38" fill="#67000d"/><rect x="232.79" y="223.27" width="2.24" height="2.38" fill="#67000d"/><rect x="261.89" y="223.27" width="2.24" height="2.38" fill="#67000d"/><rect x="172.64" y="225.30" width="4.18" height="2.38" fill="#67000d"/><rect x="188.16" y="225.30" width="10.00" height="2.38" fill="#67000d"/><rect x="211.44" y="225.30" width="4.18" height="2.38" fill="#67000d"/><rect x="217.26" y="225.30" width="2.24" height="2.38" fill="#67000d"/><rect x="226.96" y="225.30" width="4.18" height="2.38" fill="#67000d"/><rect x="234.73" y="225.30" width="4.18" height="2.38" fill="#67000d"/><rect x="250.25" y="225.30" width="4.18" height="2.38" fill="#67000d"/><rect x="263.83" y="225.30" width="2.24" height="2.38" fill="#67000d"/><rect x="172.64" y="227.33" width="2.24" height="2.38" fill="#67000d"/><rect x="180.40" y="227.33" width="2.24" height="2.38" fill="#67000d"/><rect x="184.28" y="227.33" width="2.24" height="2.38" fill="#fff0ea"/><rect x="188.16" y="227.33" width="2.24" height="2.38" fill="#67000d"/><rect x="203.68" y="227.33" width="2.24" height="2.38" fill="#fff0ea"/><rect x="215.32" y="227.33" width="2.24" height="2.38" fill="#67000d"/><rect x="238.61" y="227.33" width="2.24" height="2.38" fill="#67000d"/><rect x="246.37" y="227.33" width="2.24" height="2.38" fill="#67000d"/><rect x="254.13" y="227.33" width="2.24" height="2.38" fill="#67000d"/><rect x="265.77" y="227.33" width="2.24" height="2.38" fill="#67000d"/><rect x="172.64" y="229.35" width="11.94" height="2.38" fill="#67000d"/><rect x="188.16" y="229.35" width="4.18" height="2.38" fill="#67000d"/><rect x="199.80" y="229.35" width="2.24" height="2.38" fill="#67000d"/><rect x="215.32" y="229.35" width="2.24" height="2.38" fill="#67000d"/><rect x="225.02" y="229.35" width="2.24" height="2.38" fill="#67000d"/><rect x="238.61" y="229.35" width="2.24" height="2.38" fill="#67000d"/><rect x="259.95" y="229.35" width="2.24" height="2.38" fill="#67000d"/><rect x="267.71" y="229.35" width="2.24" height="2.38" fill="#67000d"/><rect x="172.64" y="231.38" width="2.24" height="2.38" fill="#67000d"/><rect x="188.16" y="231.38" width="2.24" height="2.38" fill="#67000d"/><rect x="195.92" y="231.38" width="4.18" height="2.38" fill="#67000d"/><rect x="211.44" y="231.38" width="2.24" height="2.38" fill="#67000d"/><rect x="232.79" y="231.38" width="2.24" height="2.38" fill="#67000d"/><rect x="261.89" y="231.38" width="2.24" height="2.38" fill="#67000d"/><rect x="269.65" y="231.38" width="2.24" height="2.38" fill="#67000d"/><rect x="176.52" y="233.40" width="4.18" height="2.38" fill="#fff0ea"/><rect x="182.34" y="233.40" width="2.24" height="2.38" fill="#fff0ea"/><rect x="271.59" y="233.40" width="2.24" height="2.38" fill="#67000d"/><rect x="52.35" y="235.43" width="13.88" height="2.38" fill="#fc9272"/><rect x="73.69" y="235.43" width="2.24" height="2.38" fill="#67000d"/><rect x="77.57" y="235.43" width="4.18" height="2.38" fill="#fc9272"/><rect x="85.33" y="235.43" width="2.24" height="2.38" fill="#67000d"/><rect x="145.48" y="235.43" width="2.24" height="2.38" fill="#67000d"/><rect x="147.42" y="235.43" width="2.24" height="2.38" fill="#ef3b2c"/><rect x="149.36" y="235.43" width="2.24" height="2.38" fill="#67000d"/><rect x="151.30" y="235.43" width="2.24" height="2.38" fill="#fcbba1"/><rect x="155.18" y="235.43" width="2.24" height="2.38" fill="#fb6a4a"/><rect x="159.06" y="235.43" width="2.24" height="2.38" fill="#fc9272"/><rect x="161.00" y="235.43" width="2.24" height="2.38" fill="#67000d"/><rect x="162.94" y="235.43" width="2.24" height="2.38" fill="#fc9272"/><rect x="164.88" y="235.43" width="6.12" height="2.38" fill="#67000d"/><rect x="170.70" y="235.43" width="2.24" height="2.38" fill="#fc9272"/><rect x="172.64" y="235.43" width="2.24" height="2.38" fill="#67000d"/><rect x="188.16" y="235.43" width="2.24" height="2.38" fill="#67000d"/><rect x="195.92" y="235.43" width="4.18" height="2.38" fill="#67000d"/><rect x="211.44" y="235.43" width="2.24" height="2.38" fill="#67000d"/><rect x="230.85" y="235.43" width="4.18" height="2.38" fill="#67000d"/><rect x="261.89" y="235.43" width="2.24" height="2.38" fill="#67000d"/><rect x="273.53" y="235.43" width="2.24" height="2.38" fill="#67000d"/><rect x="52.35" y="237.45" width="4.18" height="2.38" fill="#67000d"/><rect x="62.05" y="237.45" width="2.24" height="2.38" fill="#fb6a4a"/><rect x="77.57" y="237.45" width="2.24" height="2.38" fill="#67000d"/><rect x="172.64" y="237.45" width="4.18" height="2.38" fill="#fcbba1"/><rect x="190.10" y="237.45" width="4.18" height="2.38" fill="#fcbba1"/><rect x="213.38" y="237.45" width="2.24" height="2.38" fill="#fb6a4a"/><rect x="275.47" y="237.45" width="2.24" height="2.38" fill="#67000d"/><rect x="73.69" y="239.48" width="2.24" height="2.38" fill="#67000d"/><rect x="85.33" y="239.48" width="2.24" height="2.38" fill="#67000d"/><rect x="145.48" y="239.48" width="2.24" height="2.38" fill="#67000d"/><rect x="149.36" y="239.48" width="2.24" height="2.38" fill="#67000d"/><rect x="172.64" y="239.48" width="2.24" height="2.38" fill="#67000d"/><rect x="188.16" y="239.48" width="2.24" height="2.38" fill="#67000d"/><rect x="195.92" y="239.48" width="4.18" height="2.38" fill="#67000d"/><rect x="211.44" y="239.48" width="2.24" height="2.38" fill="#67000d"/><rect x="230.85" y="239.48" width="4.18" height="2.38" fill="#67000d"/><rect x="261.89" y="239.48" width="2.24" height="2.38" fill="#67000d"/><rect x="273.53" y="239.48" width="2.24" height="2.38" fill="#67000d"/><rect x="277.41" y="239.48" width="2.24" height="2.38" fill="#67000d"/><rect x="52.35" y="241.50" width="4.18" height="2.38" fill="#fee0d2"/><rect x="60.11" y="241.50" width="2.24" height="2.38" fill="#fee0d2"/><rect x="77.57" y="241.50" width="2.24" height="2.38" fill="#fee0d2"/><rect x="81.45" y="241.50" width="4.18" height="2.38" fill="#fee0d2"/><rect x="279.35" y="241.50" width="2.24" height="2.38" fill="#67000d"/><rect x="279.35" y="243.53" width="2.24" height="2.38" fill="#fb6a4a"/><rect x="281.29" y="243.53" width="2.24" height="2.38" fill="#67000d"/><rect x="153.24" y="245.55" width="2.24" height="2.38" fill="#fee0d2"/><rect x="157.12" y="245.55" width="2.24" height="2.38" fill="#fee0d2"/><rect x="277.41" y="245.55" width="2.24" height="2.38" fill="#fc9272"/><rect x="283.23" y="245.55" width="2.24" height="2.38" fill="#67000d"/><rect x="153.24" y="247.58" width="2.24" height="2.38" fill="#fee0d2"/><rect x="157.12" y="247.58" width="2.24" height="2.38" fill="#fee0d2"/><rect x="277.41" y="247.58" width="2.24" height="2.38" fill="#fc9272"/><rect x="283.23" y="247.58" width="4.18" height="2.38" fill="#67000d"/><rect x="153.24" y="249.60" width="2.24" height="2.38" fill="#fee0d2"/><rect x="157.12" y="249.60" width="2.24" height="2.38" fill="#fee0d2"/><rect x="277.41" y="249.60" width="2.24" height="2.38" fill="#fc9272"/><rect x="283.23" y="249.60" width="6.12" height="2.38" fill="#67000d"/><rect x="52.35" y="4.53" width="2.24" height="16.55" fill="#67000d"/><rect x="52.35" y="22.76" width="2.24" height="4.40" fill="#67000d"/><rect x="52.35" y="28.83" width="2.24" height="10.48" fill="#67000d"/><rect x="52.35" y="40.99" width="2.24" height="6.43" fill="#67000d"/><rect x="52.35" y="51.11" width="2.24" height="20.60" fill="#67000d"/><rect x="52.35" y="73.39" width="2.24" height="12.50" fill="#67000d"/><rect x="52.35" y="87.57" width="2.24" height="10.48" fill="#67000d"/><rect x="52.35" y="115.93" width="2.24" height="14.53" fill="#67000d"/><rect x="52.35" y="217.20" width="2.24" height="4.40" fill="#ef3b2c"/><rect x="54.29" y="6.56" width="2.24" height="6.43" fill="#67000d"/><rect x="54.29" y="14.66" width="2.24" height="4.40" fill="#67000d"/><rect x="54.29" y="28.83" width="2.24" height="10.48" fill="#67000d"/><rect x="54.29" y="40.99" width="2.24" height="6.43" fill="#67000d"/><rect x="54.29" y="51.11" width="2.24" height="20.60" fill="#67000d"/><rect x="54.29" y="73.39" width="2.24" height="12.50" fill="#67000d"/><rect x="54.29" y="87.57" width="2.24" height="10.48" fill="#67000d"/><rect x="54.29" y="115.93" width="2.24" height="14.53" fill="#67000d"/><rect x="54.29" y="217.20" width="2.24" height="4.40" fill="#ef3b2c"/><rect x="56.23" y="8.58" width="2.24" height="4.40" fill="#67000d"/><rect x="56.23" y="12.63" width="2.24" height="4.40" fill="#a50f15"/><rect x="56.23" y="30.86" width="2.24" height="4.40" fill="#67000d"/><rect x="56.23" y="51.11" width="2.24" height="4.40" fill="#67000d"/><rect x="56.23" y="79.47" width="2.24" height="6.43" fill="#67000d"/><rect x="56.23" y="115.93" width="2.24" height="14.53" fill="#67000d"/><rect x="58.17" y="10.61" width="2.24" height="4.40" fill="#67000d"/><rect x="58.17" y="30.86" width="2.24" height="4.40" fill="#67000d"/><rect x="58.17" y="51.11" width="2.24" height="4.40" fill="#67000d"/><rect x="58.17" y="79.47" width="2.24" height="6.43" fill="#67000d"/><rect x="58.17" y="115.93" width="2.24" height="14.53" fill="#67000d"/><rect x="60.11" y="16.68" width="2.24" height="4.40" fill="#67000d"/><rect x="60.11" y="32.89" width="2.24" height="6.43" fill="#67000d"/><rect x="60.11" y="43.01" width="2.24" height="4.40" fill="#67000d"/><rect x="60.11" y="51.11" width="2.24" height="4.40" fill="#67000d"/><rect x="60.11" y="57.19" width="2.24" height="10.48" fill="#67000d"/><rect x="60.11" y="75.42" width="2.24" height="10.48" fill="#67000d"/><rect x="60.11" y="87.57" width="2.24" height="4.40" fill="#67000d"/><rect x="60.11" y="115.93" width="2.24" height="14.53" fill="#67000d"/><rect x="60.11" y="217.20" width="2.24" height="4.40" fill="#fff0ea"/><rect x="62.05" y="30.86" width="2.24" height="4.40" fill="#67000d"/><rect x="62.05" y="51.11" width="2.24" height="4.40" fill="#67000d"/><rect x="62.05" y="57.19" width="2.24" height="10.48" fill="#fee0d2"/><rect x="62.05" y="79.47" width="2.24" height="6.43" fill="#67000d"/><rect x="62.05" y="115.93" width="2.24" height="14.53" fill="#67000d"/><rect x="63.99" y="20.73" width="2.24" height="4.40" fill="#fff0ea"/><rect x="63.99" y="30.86" width="2.24" height="4.40" fill="#67000d"/><rect x="63.99" y="51.11" width="2.24" height="4.40" fill="#67000d"/><rect x="63.99" y="79.47" width="2.24" height="6.43" fill="#67000d"/><rect x="63.99" y="115.93" width="2.24" height="14.53" fill="#67000d"/><rect x="65.93" y="34.91" width="2.24" height="4.40" fill="#fcbba1"/><rect x="65.93" y="43.01" width="2.24" height="4.40" fill="#67000d"/><rect x="65.93" y="57.19" width="2.24" height="10.48" fill="#fee0d2"/><rect x="65.93" y="75.42" width="2.24" height="10.48" fill="#67000d"/><rect x="65.93" y="217.20" width="2.24" height="4.40" fill="#fff0ea"/><rect x="67.87" y="47.06" width="2.24" height="4.40" fill="#67000d"/><rect x="69.81" y="34.91" width="2.24" height="4.40" fill="#fcbba1"/><rect x="71.75" y="81.50" width="2.24" height="4.40" fill="#67000d"/><rect x="73.69" y="101.75" width="2.24" height="8.45" fill="#67000d"/><rect x="73.69" y="115.93" width="2.24" height="14.53" fill="#67000d"/><rect x="75.63" y="28.83" width="2.24" height="4.40" fill="#67000d"/><rect x="75.63" y="67.32" width="2.24" height="4.40" fill="#67000d"/><rect x="77.57" y="30.86" width="2.24" height="8.45" fill="#67000d"/><rect x="77.57" y="40.99" width="2.24" height="6.43" fill="#67000d"/><rect x="77.57" y="51.11" width="2.24" height="20.60" fill="#67000d"/><rect x="77.57" y="73.39" width="2.24" height="12.50" fill="#67000d"/><rect x="77.57" y="87.57" width="2.24" height="10.48" fill="#67000d"/><rect x="77.57" y="115.93" width="2.24" height="14.53" fill="#67000d"/><rect x="77.57" y="166.56" width="2.24" height="4.40" fill="#fb6a4a"/><rect x="77.57" y="217.20" width="2.24" height="4.40" fill="#ef3b2c"/><rect x="79.51" y="51.11" width="2.24" height="4.40" fill="#67000d"/><rect x="79.51" y="79.47" width="2.24" height="6.43" fill="#67000d"/><rect x="79.51" y="115.93" width="2.24" height="14.53" fill="#67000d"/><rect x="81.45" y="34.91" width="2.24" height="4.40" fill="#67000d"/><rect x="81.45" y="57.19" width="2.24" height="10.48" fill="#67000d"/><rect x="81.45" y="75.42" width="2.24" height="8.45" fill="#67000d"/><rect x="83.39" y="36.94" width="2.24" height="4.40" fill="#67000d"/><rect x="83.39" y="57.19" width="2.24" height="10.48" fill="#67000d"/><rect x="85.33" y="101.75" width="2.24" height="8.45" fill="#67000d"/><rect x="85.33" y="115.93" width="2.24" height="14.53" fill="#67000d"/><rect x="89.21" y="57.19" width="2.24" height="10.48" fill="#fcbba1"/><rect x="91.15" y="134.16" width="2.24" height="4.40" fill="#fff0ea"/><rect x="93.09" y="47.06" width="2.24" height="4.40" fill="#67000d"/><rect x="106.67" y="61.24" width="2.24" height="4.40" fill="#67000d"/><rect x="106.67" y="79.47" width="2.24" height="4.40" fill="#67000d"/><rect x="108.61" y="79.47" width="2.24" height="4.40" fill="#67000d"/><rect x="112.50" y="217.20" width="2.24" height="4.40" fill="#fb6a4a"/><rect x="116.38" y="71.37" width="2.24" height="4.40" fill="#67000d"/><rect x="120.26" y="134.16" width="2.24" height="4.40" fill="#fc9272"/><rect x="120.26" y="217.20" width="2.24" height="4.40" fill="#fff0ea"/><rect x="128.02" y="134.16" width="2.24" height="6.43" fill="#fff0ea"/><rect x="128.02" y="217.20" width="2.24" height="4.40" fill="#fff0ea"/><rect x="145.48" y="101.75" width="2.24" height="8.45" fill="#67000d"/><rect x="145.48" y="115.93" width="2.24" height="14.53" fill="#67000d"/><rect x="145.48" y="154.41" width="2.24" height="4.40" fill="#ef3b2c"/><rect x="147.42" y="103.78" width="2.24" height="6.43" fill="#67000d"/><rect x="147.42" y="115.93" width="2.24" height="14.53" fill="#67000d"/><rect x="147.42" y="154.41" width="2.24" height="4.40" fill="#ef3b2c"/><rect x="149.36" y="105.80" width="2.24" height="4.40" fill="#67000d"/><rect x="149.36" y="115.93" width="2.24" height="14.53" fill="#67000d"/><rect x="149.36" y="154.41" width="2.24" height="4.40" fill="#fb6a4a"/><rect x="151.30" y="115.93" width="2.24" height="14.53" fill="#67000d"/><rect x="151.30" y="154.41" width="2.24" height="4.40" fill="#fcbba1"/><rect x="153.24" y="245.55" width="2.24" height="6.43" fill="#fee0d2"/><rect x="155.18" y="115.93" width="2.24" height="14.53" fill="#67000d"/><rect x="155.18" y="154.41" width="2.24" height="4.40" fill="#fb6a4a"/><rect x="157.12" y="245.55" width="2.24" height="6.43" fill="#fee0d2"/><rect x="159.06" y="115.93" width="2.24" height="14.53" fill="#67000d"/><rect x="159.06" y="154.41" width="2.24" height="4.40" fill="#fc9272"/><rect x="161.00" y="117.95" width="2.24" height="14.53" fill="#67000d"/><rect x="161.00" y="154.41" width="2.24" height="4.40" fill="#67000d"/><rect x="161.00" y="190.87" width="2.24" height="4.40" fill="#67000d"/><rect x="162.94" y="119.98" width="2.24" height="10.48" fill="#67000d"/><rect x="162.94" y="154.41" width="2.24" height="4.40" fill="#fc9272"/><rect x="164.88" y="122.00" width="2.24" height="10.48" fill="#67000d"/><rect x="164.88" y="154.41" width="2.24" height="4.40" fill="#67000d"/><rect x="164.88" y="190.87" width="2.24" height="4.40" fill="#67000d"/><rect x="166.82" y="124.03" width="2.24" height="8.45" fill="#67000d"/><rect x="166.82" y="154.41" width="2.24" height="4.40" fill="#67000d"/><rect x="166.82" y="190.87" width="2.24" height="4.40" fill="#67000d"/><rect x="168.76" y="126.05" width="2.24" height="6.43" fill="#67000d"/><rect x="168.76" y="154.41" width="2.24" height="4.40" fill="#67000d"/><rect x="168.76" y="190.87" width="2.24" height="4.40" fill="#67000d"/><rect x="170.70" y="154.41" width="2.24" height="4.40" fill="#fc9272"/><rect x="172.64" y="146.31" width="2.24" height="12.50" fill="#67000d"/><rect x="172.64" y="168.59" width="2.24" height="12.50" fill="#67000d"/><rect x="172.64" y="182.77" width="2.24" height="6.43" fill="#67000d"/><rect x="172.64" y="192.89" width="2.24" height="12.50" fill="#67000d"/><rect x="172.64" y="207.07" width="2.24" height="26.68" fill="#67000d"/><rect x="174.58" y="150.36" width="2.24" height="4.40" fill="#8a0812"/><rect x="174.58" y="182.77" width="2.24" height="6.43" fill="#67000d"/><rect x="174.58" y="194.92" width="2.24" height="4.40" fill="#67000d"/><rect x="174.58" y="217.20" width="2.24" height="6.43" fill="#67000d"/><rect x="176.52" y="134.16" width="2.24" height="4.40" fill="#67000d"/><rect x="176.52" y="166.56" width="2.24" height="4.40" fill="#67000d"/><rect x="176.52" y="217.20" width="2.24" height="6.43" fill="#67000d"/><rect x="178.46" y="166.56" width="2.24" height="4.40" fill="#67000d"/><rect x="178.46" y="217.20" width="2.24" height="6.43" fill="#67000d"/><rect x="180.40" y="227.33" width="2.24" height="4.40" fill="#67000d"/><rect x="184.28" y="166.56" width="2.24" height="4.40" fill="#67000d"/><rect x="184.28" y="217.20" width="2.24" height="4.40" fill="#67000d"/><rect x="188.16" y="148.33" width="2.24" height="6.43" fill="#fcbba1"/><rect x="188.16" y="154.41" width="2.24" height="4.40" fill="#67000d"/><rect x="188.16" y="168.59" width="2.24" height="4.40" fill="#67000d"/><rect x="188.16" y="174.66" width="2.24" height="6.43" fill="#67000d"/><rect x="188.16" y="182.77" width="2.24" height="6.43" fill="#67000d"/><rect x="188.16" y="192.89" width="2.24" height="12.50" fill="#67000d"/><rect x="188.16" y="207.07" width="2.24" height="26.68" fill="#67000d"/><rect x="190.10" y="150.36" width="2.24" height="4.40" fill="#8a0812"/><rect x="190.10" y="182.77" width="2.24" height="6.43" fill="#67000d"/><rect x="190.10" y="194.92" width="2.24" height="4.40" fill="#67000d"/><rect x="190.10" y="217.20" width="2.24" height="6.43" fill="#67000d"/><rect x="192.04" y="150.36" width="2.24" height="4.40" fill="#67000d"/><rect x="192.04" y="194.92" width="2.24" height="4.40" fill="#67000d"/><rect x="193.98" y="194.92" width="2.24" height="4.40" fill="#67000d"/><rect x="195.92" y="154.41" width="2.24" height="4.40" fill="#67000d"/><rect x="195.92" y="192.89" width="2.24" height="6.43" fill="#67000d"/><rect x="195.92" y="223.27" width="2.24" height="4.40" fill="#67000d"/><rect x="203.68" y="166.56" width="2.24" height="4.40" fill="#67000d"/><rect x="203.68" y="217.20" width="2.24" height="4.40" fill="#67000d"/><rect x="207.56" y="166.56" width="2.24" height="4.40" fill="#67000d"/><rect x="207.56" y="217.20" width="2.24" height="4.40" fill="#67000d"/><rect x="209.50" y="217.20" width="2.24" height="4.40" fill="#67000d"/><rect x="211.44" y="192.89" width="2.24" height="6.43" fill="#67000d"/><rect x="211.44" y="223.27" width="2.24" height="4.40" fill="#67000d"/><rect x="213.38" y="194.92" width="2.24" height="4.40" fill="#67000d"/><rect x="215.32" y="198.97" width="2.24" height="4.40" fill="#67000d"/><rect x="215.32" y="215.17" width="2.24" height="8.45" fill="#67000d"/><rect x="215.32" y="227.33" width="2.24" height="4.40" fill="#67000d"/><rect x="217.26" y="186.82" width="2.24" height="4.40" fill="#ef3b2c"/><rect x="217.26" y="194.92" width="2.24" height="4.40" fill="#67000d"/><rect x="223.08" y="217.20" width="2.24" height="4.40" fill="#67000d"/><rect x="226.96" y="194.92" width="2.24" height="4.40" fill="#67000d"/><rect x="228.90" y="194.92" width="2.24" height="4.40" fill="#67000d"/><rect x="232.79" y="192.89" width="2.24" height="4.40" fill="#67000d"/><rect x="234.73" y="194.92" width="2.24" height="4.40" fill="#67000d"/><rect x="234.73" y="211.12" width="2.24" height="4.40" fill="#67000d"/><rect x="236.67" y="211.12" width="2.24" height="4.40" fill="#67000d"/><rect x="238.61" y="227.33" width="2.24" height="4.40" fill="#67000d"/><rect x="240.55" y="217.20" width="2.24" height="4.40" fill="#67000d"/><rect x="244.43" y="217.20" width="2.24" height="4.40" fill="#67000d"/><rect x="250.25" y="211.12" width="2.24" height="4.40" fill="#67000d"/><rect x="256.07" y="217.20" width="2.24" height="4.40" fill="#67000d"/><rect x="277.41" y="245.55" width="2.24" height="6.43" fill="#fc9272"/><rect x="283.23" y="245.55" width="2.24" height="6.43" fill="#67000d"/><rect x="285.17" y="247.58" width="2.24" height="4.40" fill="#67000d"/></g>
<rect x="304" y="4.7" width="12.1" height="247.1" fill="url(#cb)"/>
<g stroke="#222" stroke-width="0.8" stroke-dasharray="2.3 1.2"><line x1="52.5" y1="130.4" x2="289.5" y2="130.4"/></g>
<g stroke="#888" stroke-width="0.9" stroke-dasharray="2.3 1.2"><line x1="52.5" y1="242" x2="289.5" y2="242"/><line x1="52.5" y1="246" x2="289.5" y2="246"/></g>
<g font-family="Liberation Sans, sans-serif" fill="#1a1a1a" font-size="11.3"><text x="320.6" y="9" textLength="17.4" lengthAdjust="spacingAndGlyphs">1.0</text><text x="320.6" y="256.3" textLength="17.4" lengthAdjust="spacingAndGlyphs">0.5</text><text transform="translate(331.6,148.4) rotate(-90)" font-size="11.5" textLength="50" lengthAdjust="spacingAndGlyphs">Similarity</text></g>
<g font-family="Liberation Sans, sans-serif" fill="#000" font-size="11.8"><text x="25.6" y="73.6" textLength="24.2" lengthAdjust="spacingAndGlyphs">C1-1</text><text x="25.6" y="193.3" textLength="24.2" lengthAdjust="spacingAndGlyphs">C1-2</text><text x="25.6" y="248" textLength="24.2" lengthAdjust="spacingAndGlyphs">C1-3</text><text x="25.6" y="258" textLength="24.2" lengthAdjust="spacingAndGlyphs">C1-4</text></g>
<g font-family="Liberation Sans, sans-serif" fill="#000" font-weight="bold" font-size="25"><text x="0.5" y="28">A</text><text x="349.3" y="27.3" textLength="16.6" lengthAdjust="spacingAndGlyphs">B</text><text x="0.8" y="287.6" textLength="17.2" lengthAdjust="spacingAndGlyphs">C</text></g>
<g font-family="Liberation Sans, sans-serif" fill="#000" font-weight="bold" font-size="19.5"><text x="617.6" y="231.3" textLength="40.8" lengthAdjust="spacingAndGlyphs">C1-1</text><text x="242.8" y="500.6" textLength="40.8" lengthAdjust="spacingAndGlyphs">C1-2</text></g>
<g><line x1="411.2" y1="41.4" x2="400.5" y2="61.3" stroke="#3a3a3a" stroke-width="0.6"/><polygon points="400.5,61.3 400.8,57.1 403.8,58.8" fill="#2a2a2a"/><line x1="409.4" y1="41.7" x2="400.1" y2="61.1" stroke="#3a3a3a" stroke-width="0.6"/><polygon points="400.1,61.1 400.2,56.9 403.3,58.4" fill="#2a2a2a"/><line x1="412.8" y1="41.6" x2="402.9" y2="61.9" stroke="#3a3a3a" stroke-width="0.6"/><line x1="420.1" y1="41.6" x2="432.0" y2="65.5" stroke="#3a3a3a" stroke-width="0.6"/><polygon points="432.0,65.5 428.8,62.9 431.8,61.3" fill="#2a2a2a"/><line x1="414.4" y1="42.5" x2="407.4" y2="91.8" stroke="#8a8a8a" stroke-width="0.6"/><line x1="414.8" y1="42.4" x2="405.8" y2="91.5" stroke="#cfcfcf" stroke-width="0.6"/><line x1="415.8" y1="42.6" x2="414.5" y2="127.8" stroke="#cfcfcf" stroke-width="0.6"/><line x1="412.0" y1="41.8" x2="397.0" y2="128.8" stroke="#8a8a8a" stroke-width="0.6"/><line x1="414.0" y1="42.4" x2="401.0" y2="127.8" stroke="#8a8a8a" stroke-width="0.6"/><line x1="437.3" y1="44.8" x2="410.7" y2="92.8" stroke="#3a3a3a" stroke-width="0.6"/><polygon points="410.7,92.8 411.1,88.7 414.0,90.3" fill="#2a2a2a"/><line x1="435.9" y1="45.1" x2="413.6" y2="92.2" stroke="#3a3a3a" stroke-width="0.6"/><polygon points="413.6,92.2 413.7,88.0 416.8,89.5" fill="#2a2a2a"/><line x1="439.2" y1="46.5" x2="416.4" y2="91.4" stroke="#3a3a3a" stroke-width="0.6"/><line x1="440.3" y1="45.9" x2="437.1" y2="64.8" stroke="#3a3a3a" stroke-width="0.6"/><line x1="439.0" y1="45.5" x2="412.1" y2="132.8" stroke="#8a8a8a" stroke-width="0.6"/><line x1="443.0" y1="46.0" x2="416.0" y2="166.8" stroke="#8a8a8a" stroke-width="0.6"/><line x1="437.0" y1="44.6" x2="404.1" y2="127.8" stroke="#8a8a8a" stroke-width="0.6"/><line x1="393.7" y1="77.7" x2="388.4" y2="95.1" stroke="#3a3a3a" stroke-width="0.6"/><polygon points="388.4,95.1 387.9,91.0 391.1,92.0" fill="#2a2a2a"/><line x1="394.0" y1="77.8" x2="383.6" y2="95.8" stroke="#8a8a8a" stroke-width="0.6"/><line x1="398.8" y1="77.7" x2="403.2" y2="92.1" stroke="#8a8a8a" stroke-width="0.6"/><line x1="398.0" y1="78.0" x2="401.9" y2="92.8" stroke="#8a8a8a" stroke-width="0.6"/><line x1="395.5" y1="78.0" x2="390.0" y2="129.8" stroke="#cfcfcf" stroke-width="0.6"/><line x1="397.0" y1="78.1" x2="398.0" y2="127.8" stroke="#8a8a8a" stroke-width="0.6"/><line x1="400.0" y1="77.0" x2="409.0" y2="131.8" stroke="#8a8a8a" stroke-width="0.6"/><line x1="434.0" y1="80.5" x2="419.5" y2="166.8" stroke="#3a3a3a" stroke-width="0.6"/><line x1="436.5" y1="80.7" x2="414.5" y2="200.8" stroke="#3a3a3a" stroke-width="0.6"/><polygon points="414.5,200.8 413.5,196.8 416.9,197.4" fill="#2a2a2a"/><line x1="431.0" y1="79.0" x2="411.2" y2="95.9" stroke="#8a8a8a" stroke-width="0.6"/><line x1="433.0" y1="80.0" x2="408.1" y2="131.8" stroke="#8a8a8a" stroke-width="0.6"/><line x1="460.4" y1="78.1" x2="443.7" y2="74.5" stroke="#3a3a3a" stroke-width="0.6"/><polygon points="443.7,74.5 447.8,73.6 447.1,77.0" fill="#2a2a2a"/><line x1="384.5" y1="109.2" x2="380.4" y2="129.3" stroke="#3a3a3a" stroke-width="0.6"/><polygon points="380.4,129.3 379.5,125.2 382.8,125.9" fill="#2a2a2a"/><line x1="386.5" y1="109.4" x2="386.0" y2="130.8" stroke="#cfcfcf" stroke-width="0.6"/><polygon points="386.0,130.8 384.4,127.0 387.8,127.0" fill="#c4c4c4"/><line x1="388.0" y1="109.1" x2="391.5" y2="128.3" stroke="#8a8a8a" stroke-width="0.6"/><polygon points="391.5,128.3 389.1,124.9 392.5,124.3" fill="#777"/><line x1="389.0" y1="108.5" x2="395.9" y2="128.3" stroke="#cfcfcf" stroke-width="0.6"/><polygon points="395.9,128.3 393.0,125.3 396.3,124.2" fill="#c4c4c4"/><line x1="402.0" y1="110.0" x2="391.8" y2="127.3" stroke="#3a3a3a" stroke-width="0.6"/><polygon points="391.8,127.3 392.3,123.2 395.2,124.9" fill="#2a2a2a"/><line x1="404.0" y1="110.7" x2="395.8" y2="127.3" stroke="#3a3a3a" stroke-width="0.6"/><polygon points="395.8,127.3 396.0,123.1 399.0,124.6" fill="#2a2a2a"/><line x1="406.0" y1="110.9" x2="404.7" y2="127.1" stroke="#000" stroke-width="0.6"/><polygon points="404.7,127.1 403.3,123.2 406.7,123.4" fill="#000"/><line x1="408.0" y1="110.7" x2="411.3" y2="127.1" stroke="#3a3a3a" stroke-width="0.6"/><polygon points="411.3,127.1 408.9,123.7 412.2,123.0" fill="#2a2a2a"/><line x1="405.0" y1="110.9" x2="400.1" y2="127.8" stroke="#8a8a8a" stroke-width="0.6"/><line x1="407.0" y1="110.9" x2="407.5" y2="128.8" stroke="#000" stroke-width="0.6"/><line x1="409.5" y1="110.2" x2="414.9" y2="127.8" stroke="#8a8a8a" stroke-width="0.6"/><line x1="403.0" y1="110.4" x2="388.1" y2="133.8" stroke="#cfcfcf" stroke-width="0.6"/><line x1="384" y1="141" x2="391" y2="168" stroke="#cfcfcf" stroke-width="0.6"/><polygon points="391.0,168.0 388.4,164.7 391.7,163.9" fill="#c4c4c4"/><line x1="386" y1="142" x2="394" y2="167" stroke="#cfcfcf" stroke-width="0.6"/><polygon points="394.0,167.0 391.2,163.9 394.5,162.9" fill="#c4c4c4"/><line x1="389" y1="143.5" x2="396" y2="167" stroke="#cfcfcf" stroke-width="0.6"/><polygon points="396.0,167.0 393.3,163.8 396.5,162.9" fill="#c4c4c4"/><line x1="392" y1="141" x2="399" y2="166" stroke="#cfcfcf" stroke-width="0.6"/><polygon points="399.0,166.0 396.3,162.8 399.6,161.9" fill="#c4c4c4"/><line x1="395" y1="146" x2="397.5" y2="168" stroke="#cfcfcf" stroke-width="0.6"/><polygon points="397.5,168.0 395.4,164.4 398.8,164.0" fill="#c4c4c4"/><line x1="399" y1="146.5" x2="401.5" y2="166" stroke="#8a8a8a" stroke-width="0.6"/><polygon points="401.5,166.0 399.3,162.4 402.7,162.0" fill="#777"/><line x1="403" y1="146" x2="402.5" y2="166" stroke="#cfcfcf" stroke-width="0.6"/><polygon points="402.5,166.0 400.9,162.2 404.3,162.2" fill="#c4c4c4"/><line x1="406" y1="147" x2="405" y2="167" stroke="#8a8a8a" stroke-width="0.6"/><polygon points="405.0,167.0 403.5,163.1 406.9,163.3" fill="#777"/><line x1="408.5" y1="147.3" x2="408" y2="166.5" stroke="#3a3a3a" stroke-width="0.6"/><polygon points="408.0,166.5 406.4,162.7 409.8,162.7" fill="#2a2a2a"/><line x1="411" y1="147.3" x2="411" y2="166.6" stroke="#3a3a3a" stroke-width="0.6"/><polygon points="411.0,166.6 409.3,162.8 412.7,162.8" fill="#2a2a2a"/><line x1="413.5" y1="146" x2="414" y2="166" stroke="#3a3a3a" stroke-width="0.6"/><polygon points="414.0,166.0 412.2,162.2 415.6,162.2" fill="#2a2a2a"/><line x1="416" y1="140" x2="416" y2="166.3" stroke="#8a8a8a" stroke-width="0.6"/><polygon points="416.0,166.3 414.3,162.5 417.7,162.5" fill="#777"/><line x1="394.5" y1="180.5" x2="395" y2="201.5" stroke="#3a3a3a" stroke-width="0.6"/><polygon points="395.0,201.5 393.2,197.7 396.6,197.7" fill="#2a2a2a"/><line x1="397" y1="181" x2="397.5" y2="202.5" stroke="#8a8a8a" stroke-width="0.6"/><polygon points="397.5,202.5 395.7,198.7 399.1,198.7" fill="#777"/><line x1="399.5" y1="181" x2="401.5" y2="199.3" stroke="#3a3a3a" stroke-width="0.6"/><polygon points="401.5,199.3 399.4,195.7 402.8,195.3" fill="#2a2a2a"/><line x1="402.5" y1="177" x2="403" y2="199.5" stroke="#8a8a8a" stroke-width="0.6"/><polygon points="403.0,199.5 401.2,195.7 404.6,195.7" fill="#777"/><line x1="405" y1="184" x2="404" y2="200" stroke="#cfcfcf" stroke-width="0.6"/><polygon points="404.0,200.0 402.5,196.1 405.9,196.3" fill="#c4c4c4"/><line x1="408" y1="186.2" x2="408.5" y2="201.8" stroke="#3a3a3a" stroke-width="0.6"/><polygon points="408.5,201.8 406.7,198.1 410.1,197.9" fill="#2a2a2a"/><line x1="411.5" y1="182" x2="411" y2="202.5" stroke="#8a8a8a" stroke-width="0.6"/><polygon points="411.0,202.5 409.4,198.7 412.8,198.7" fill="#777"/><line x1="414" y1="180" x2="413.8" y2="205" stroke="#3a3a3a" stroke-width="0.6"/><polygon points="413.8,205.0 412.1,201.2 415.5,201.2" fill="#2a2a2a"/><line x1="401" y1="180.5" x2="396" y2="203" stroke="#cfcfcf" stroke-width="0.6"/><polygon points="396.0,203.0 395.2,198.9 398.5,199.7" fill="#c4c4c4"/><line x1="397" y1="181" x2="406" y2="202" stroke="#cfcfcf" stroke-width="0.6"/><polygon points="406.0,202.0 402.9,199.2 406.1,197.8" fill="#c4c4c4"/><line x1="397.6" y1="213.5" x2="397.7" y2="236.5" stroke="#8a8a8a" stroke-width="0.6"/><polygon points="397.7,236.5 396.0,232.7 399.4,232.7" fill="#777"/><line x1="401.5" y1="216.5" x2="401.3" y2="240.8" stroke="#cfcfcf" stroke-width="0.6"/><polygon points="401.3,240.8 399.6,237.0 403.0,237.0" fill="#c4c4c4"/><line x1="404" y1="217" x2="402" y2="241" stroke="#cfcfcf" stroke-width="0.6"/><line x1="410" y1="226.5" x2="410.5" y2="238" stroke="#cfcfcf" stroke-width="0.6"/><polygon points="410.5,238.0 408.6,234.3 412.0,234.1" fill="#c4c4c4"/><line x1="406" y1="226" x2="402.5" y2="241" stroke="#cfcfcf" stroke-width="0.6"/><line x1="468.4" y1="50.2" x2="468.2" y2="71.5" stroke="#3a3a3a" stroke-width="0.6"/><polygon points="468.2,71.5 466.5,67.7 469.9,67.7" fill="#2a2a2a"/><line x1="491.5" y1="52.8" x2="478.3" y2="73.0" stroke="#3a3a3a" stroke-width="0.6"/><polygon points="478.3,73.0 479.0,68.9 481.8,70.7" fill="#2a2a2a"/><line x1="497.8" y1="53.0" x2="510.9" y2="76.6" stroke="#3a3a3a" stroke-width="0.6"/><polygon points="510.9,76.6 507.6,74.1 510.5,72.5" fill="#2a2a2a"/><line x1="521.1" y1="47.6" x2="521.5" y2="73.0" stroke="#e2e2e2" stroke-width="1.5"/><polygon points="521.4,69.5 519.7,65.7 523.1,65.7" fill="#c8c8c8"/><line x1="547.3" y1="27.5" x2="547.3" y2="48.8" stroke="#3a3a3a" stroke-width="0.6"/><polygon points="547.3,48.8 545.6,45.0 549.0,45.0" fill="#2a2a2a"/><line x1="570.4" y1="36.2" x2="527.4" y2="72.7" stroke="#3a3a3a" stroke-width="0.6"/><polygon points="527.4,72.7 529.2,68.9 531.4,71.5" fill="#2a2a2a"/><line x1="622.1" y1="53.6" x2="554.9" y2="56.1" stroke="#3a3a3a" stroke-width="0.6"/><polygon points="554.9,56.1 558.6,54.3 558.8,57.7" fill="#2a2a2a"/><line x1="475.2" y1="83.5" x2="475.2" y2="112.7" stroke="#c4c4c4" stroke-width="1.5"/><polygon points="475.2,109.2 473.5,105.4 476.9,105.4" fill="#333"/><line x1="475.1" y1="119.9" x2="475.1" y2="151.1" stroke="#c4c4c4" stroke-width="1.5"/><polygon points="475.1,147.6 473.4,143.8 476.8,143.8" fill="#333"/><line x1="513.0" y1="86.1" x2="478.8" y2="148.1" stroke="#3a3a3a" stroke-width="0.6"/><polygon points="478.8,148.1 479.1,144.0 482.1,145.6" fill="#2a2a2a"/><line x1="521.5" y1="82.0" x2="521.1" y2="106.1" stroke="#c4c4c4" stroke-width="1.5"/><polygon points="521.2,102.6 519.5,98.8 522.9,98.8" fill="#333"/><line x1="600" y1="75.7" x2="589" y2="80.6" stroke="#8a8a8a" stroke-width="0.6"/><line x1="545" y1="100.8" x2="525.2" y2="108.7" stroke="#3a3a3a" stroke-width="0.6"/><polygon points="525.2,108.7 528.1,105.7 529.4,108.9" fill="#2a2a2a"/><line x1="519.0" y1="113.7" x2="505.0" y2="137.4" stroke="#3a3a3a" stroke-width="0.6"/><polygon points="505.0,137.4 505.5,133.3 508.4,135.0" fill="#2a2a2a"/><line x1="522.9" y1="113.8" x2="537.2" y2="140.7" stroke="#3a3a3a" stroke-width="0.6"/><polygon points="537.2,140.7 533.9,138.1 536.9,136.5" fill="#2a2a2a"/><line x1="501.1" y1="147.9" x2="501.3" y2="175.2" stroke="#3a3a3a" stroke-width="0.6"/><polygon points="501.3,175.2 499.6,171.4 503.0,171.4" fill="#2a2a2a"/><line x1="501.4" y1="186.7" x2="501.4" y2="215.8" stroke="#3a3a3a" stroke-width="0.6"/><polygon points="501.4,215.8 499.7,212.0 503.1,212.0" fill="#2a2a2a"/><line x1="539.6" y1="150.7" x2="529.9" y2="178.7" stroke="#3a3a3a" stroke-width="0.6"/><polygon points="529.9,178.7 529.5,174.6 532.8,175.7" fill="#2a2a2a"/><line x1="540.8" y1="150.9" x2="540.6" y2="180.4" stroke="#3a3a3a" stroke-width="0.6"/><polygon points="540.6,180.4 538.9,176.6 542.3,176.6" fill="#2a2a2a"/><line x1="541.9" y1="150.7" x2="551.6" y2="179.6" stroke="#3a3a3a" stroke-width="0.6"/><polygon points="551.6,179.6 548.8,176.5 552.0,175.5" fill="#2a2a2a"/><line x1="600.0" y1="45.4" x2="600.0" y2="71.8" stroke="#c4c4c4" stroke-width="1.5"/><polygon points="600.0,68.3 598.3,64.5 601.7,64.5" fill="#333"/><line x1="652.6" y1="39.3" x2="652.6" y2="65.6" stroke="#3a3a3a" stroke-width="0.6"/><polygon points="652.6,65.6 650.9,61.8 654.3,61.8" fill="#2a2a2a"/></g>
<g><line x1="57.4" y1="325.4" x2="42.8" y2="341.2" stroke="#cfcfcf" stroke-width="0.6"/><polygon points="42.8,341.2 44.1,337.3 46.6,339.6" fill="#c4c4c4"/><line x1="63.1" y1="327.6" x2="63.1" y2="339.1" stroke="#3a3a3a" stroke-width="0.6"/><polygon points="63.1,339.1 61.4,335.3 64.8,335.3" fill="#2a2a2a"/><line x1="69.1" y1="325.1" x2="83.0" y2="338.7" stroke="#3a3a3a" stroke-width="0.6"/><polygon points="83.0,338.7 79.1,337.3 81.5,334.8" fill="#2a2a2a"/><line x1="64.3" y1="327.5" x2="71.2" y2="373.4" stroke="#cfcfcf" stroke-width="0.6"/><line x1="66.0" y1="327.1" x2="79.9" y2="365.8" stroke="#cfcfcf" stroke-width="0.6"/><line x1="66.0" y1="327.0" x2="74.0" y2="391.8" stroke="#cfcfcf" stroke-width="0.6"/><line x1="81.0" y1="345.0" x2="70.7" y2="346.0" stroke="#3a3a3a" stroke-width="0.6"/><polygon points="70.7,346.0 74.3,343.9 74.6,347.3" fill="#2a2a2a"/><line x1="59.5" y1="352.0" x2="48.5" y2="368.4" stroke="#3a3a3a" stroke-width="0.6"/><polygon points="48.5,368.4 49.2,364.3 52.0,366.2" fill="#2a2a2a"/><line x1="61.3" y1="352.8" x2="57.0" y2="367.4" stroke="#3a3a3a" stroke-width="0.6"/><polygon points="57.0,367.4 56.4,363.3 59.7,364.2" fill="#2a2a2a"/><line x1="63.2" y1="353.1" x2="63.4" y2="368.0" stroke="#3a3a3a" stroke-width="0.6"/><polygon points="63.4,368.0 61.6,364.2 65.0,364.2" fill="#2a2a2a"/><line x1="64.8" y1="352.9" x2="69.9" y2="370.9" stroke="#3a3a3a" stroke-width="0.6"/><polygon points="69.9,370.9 67.2,367.7 70.5,366.8" fill="#2a2a2a"/><line x1="85.3" y1="351.2" x2="75.3" y2="371.4" stroke="#3a3a3a" stroke-width="0.6"/><polygon points="75.3,371.4 75.5,367.2 78.5,368.7" fill="#2a2a2a"/><line x1="85.9" y1="351.5" x2="81.7" y2="362.3" stroke="#3a3a3a" stroke-width="0.6"/><polygon points="81.7,362.3 81.5,358.1 84.7,359.4" fill="#2a2a2a"/><line x1="87.8" y1="352.0" x2="86.3" y2="365.7" stroke="#3a3a3a" stroke-width="0.6"/><polygon points="86.3,365.7 85.0,361.7 88.4,362.1" fill="#2a2a2a"/><line x1="89.5" y1="352.0" x2="91.2" y2="367.1" stroke="#3a3a3a" stroke-width="0.6"/><polygon points="91.2,367.1 89.1,363.5 92.5,363.1" fill="#2a2a2a"/><line x1="91.0" y1="351.7" x2="96.3" y2="369.0" stroke="#cfcfcf" stroke-width="0.6"/><polygon points="96.3,369.0 93.6,365.9 96.8,364.9" fill="#c4c4c4"/><line x1="36.3" y1="352.6" x2="33.0" y2="365.6" stroke="#cfcfcf" stroke-width="0.6"/><polygon points="33.0,365.6 32.3,361.5 35.6,362.3" fill="#c4c4c4"/><line x1="39.1" y1="352.6" x2="42.5" y2="367.3" stroke="#cfcfcf" stroke-width="0.6"/><polygon points="42.5,367.3 40.0,364.0 43.3,363.2" fill="#c4c4c4"/><line x1="31.2" y1="377.6" x2="31.2" y2="396.0" stroke="#c4c4c4" stroke-width="1.5"/><polygon points="31.2,392.5 29.5,388.7 32.9,388.7" fill="#333"/><line x1="44.2" y1="380.3" x2="44.2" y2="395.0" stroke="#e2e2e2" stroke-width="1.5"/><polygon points="44.2,391.5 42.5,387.7 45.9,387.7" fill="#c8c8c8"/><line x1="54.9" y1="378.9" x2="54.9" y2="393.7" stroke="#cfcfcf" stroke-width="0.6"/><polygon points="54.9,393.7 53.2,389.9 56.6,389.9" fill="#c4c4c4"/><line x1="63.5" y1="379.3" x2="63.5" y2="396.9" stroke="#3a3a3a" stroke-width="0.6"/><polygon points="63.5,396.9 61.8,393.1 65.2,393.1" fill="#2a2a2a"/><line x1="67.8" y1="380.4" x2="39.7" y2="395.5" stroke="#3a3a3a" stroke-width="0.6"/><polygon points="39.7,395.5 42.2,392.2 43.9,395.2" fill="#2a2a2a"/><line x1="41.9" y1="422.6" x2="34.6" y2="407.8" stroke="#3a3a3a" stroke-width="0.6"/><polygon points="34.6,407.8 37.8,410.5 34.8,412.0" fill="#2a2a2a"/><line x1="44.2" y1="406.4" x2="44.1" y2="421.9" stroke="#e2e2e2" stroke-width="1.5"/><polygon points="44.1,418.4 42.4,414.6 45.8,414.6" fill="#c8c8c8"/><line x1="74.3" y1="419.8" x2="67.3" y2="410.7" stroke="#3a3a3a" stroke-width="0.6"/><polygon points="67.3,410.7 71.0,412.7 68.3,414.7" fill="#2a2a2a"/><line x1="78" y1="375" x2="77" y2="391.5" stroke="#8a8a8a" stroke-width="0.6"/><polygon points="77.0,391.5 75.5,387.6 78.9,387.8" fill="#777"/><line x1="80.5" y1="375" x2="79.5" y2="392.5" stroke="#3a3a3a" stroke-width="0.6"/><polygon points="79.5,392.5 78.0,388.6 81.4,388.8" fill="#2a2a2a"/><line x1="83" y1="379" x2="82.5" y2="393" stroke="#8a8a8a" stroke-width="0.6"/><polygon points="82.5,393.0 80.9,389.1 84.3,389.3" fill="#777"/><line x1="86" y1="379.5" x2="86" y2="393.2" stroke="#cfcfcf" stroke-width="0.6"/><polygon points="86.0,393.2 84.3,389.4 87.7,389.4" fill="#c4c4c4"/><line x1="92" y1="379.6" x2="92" y2="396.5" stroke="#3a3a3a" stroke-width="0.6"/><polygon points="92.0,396.5 90.3,392.7 93.7,392.7" fill="#2a2a2a"/><line x1="88.5" y1="379" x2="89" y2="393.5" stroke="#cfcfcf" stroke-width="0.6"/><polygon points="89.0,393.5 87.2,389.8 90.6,389.6" fill="#c4c4c4"/><line x1="95" y1="379" x2="95" y2="392" stroke="#cfcfcf" stroke-width="0.6"/><line x1="76.5" y1="403" x2="76.5" y2="418.6" stroke="#3a3a3a" stroke-width="0.6"/><polygon points="76.5,418.6 74.8,414.8 78.2,414.8" fill="#2a2a2a"/><line x1="79" y1="403" x2="79" y2="419" stroke="#8a8a8a" stroke-width="0.6"/><polygon points="79.0,419.0 77.3,415.2 80.7,415.2" fill="#777"/><line x1="81.5" y1="411" x2="81.5" y2="420" stroke="#000" stroke-width="0.6"/><polygon points="81.5,420.0 79.8,416.2 83.2,416.2" fill="#000"/><line x1="84" y1="411" x2="84.5" y2="420.2" stroke="#3a3a3a" stroke-width="0.6"/><polygon points="84.5,420.2 82.6,416.5 86.0,416.3" fill="#2a2a2a"/><line x1="87" y1="405.5" x2="87" y2="420.3" stroke="#8a8a8a" stroke-width="0.6"/><polygon points="87.0,420.3 85.3,416.5 88.7,416.5" fill="#777"/><line x1="77.3" y1="430.7" x2="77.3" y2="451.6" stroke="#000" stroke-width="0.6"/><polygon points="77.3,451.6 75.6,447.8 79.0,447.8" fill="#000"/><line x1="87.8" y1="442" x2="87.8" y2="451.5" stroke="#cfcfcf" stroke-width="0.6"/><polygon points="87.8,451.5 86.1,447.7 89.5,447.7" fill="#c4c4c4"/><line x1="87.8" y1="461.8" x2="87.8" y2="479.8" stroke="#8a8a8a" stroke-width="0.6"/><polygon points="87.8,479.8 86.1,476.0 89.5,476.0" fill="#777"/><line x1="87.8" y1="489" x2="87.8" y2="509.5" stroke="#cfcfcf" stroke-width="0.6"/><polygon points="87.8,509.5 86.1,505.7 89.5,505.7" fill="#c4c4c4"/><line x1="124.8" y1="328.5" x2="79.6" y2="389.3" stroke="#3a3a3a" stroke-width="0.6"/><polygon points="79.6,389.3 80.5,385.2 83.2,387.3" fill="#2a2a2a"/><line x1="157" y1="360.5" x2="82" y2="414.5" stroke="#3a3a3a" stroke-width="0.6"/><line x1="157.2" y1="413.8" x2="74.5" y2="387.5" stroke="#3a3a3a" stroke-width="0.6"/><polygon points="74.5,387.5 78.6,387.0 77.6,390.3" fill="#2a2a2a"/><line x1="157.3" y1="444.2" x2="67.5" y2="405.8" stroke="#3a3a3a" stroke-width="0.6"/><polygon points="67.5,405.8 71.7,405.7 70.3,408.9" fill="#2a2a2a"/><line x1="100" y1="399" x2="78" y2="390.3" stroke="#3a3a3a" stroke-width="0.6"/><polygon points="78.0,390.3 82.2,390.1 80.9,393.3" fill="#2a2a2a"/><line x1="156" y1="385.5" x2="97" y2="379" stroke="#cfcfcf" stroke-width="0.6"/><line x1="156" y1="387" x2="94" y2="399" stroke="#cfcfcf" stroke-width="0.6"/><line x1="120" y1="381" x2="96" y2="386" stroke="#cfcfcf" stroke-width="0.6"/><line x1="128.6" y1="329.7" x2="128.6" y2="343.8" stroke="#3a3a3a" stroke-width="0.6"/><polygon points="128.6,343.8 126.9,340.0 130.3,340.0" fill="#2a2a2a"/><line x1="161.3" y1="332.6" x2="161.3" y2="349.6" stroke="#3a3a3a" stroke-width="0.6"/><polygon points="161.3,349.6 159.6,345.8 163.0,345.8" fill="#2a2a2a"/><line x1="161.3" y1="363.0" x2="161.3" y2="378.8" stroke="#cfcfcf" stroke-width="0.6"/><polygon points="161.3,378.8 159.6,375.0 163.0,375.0" fill="#c4c4c4"/><line x1="161.3" y1="391.8" x2="161.3" y2="407.7" stroke="#cfcfcf" stroke-width="0.6"/><polygon points="161.3,407.7 159.6,403.9 163.0,403.9" fill="#c4c4c4"/><line x1="161.3" y1="419.7" x2="161.5" y2="438.5" stroke="#cfcfcf" stroke-width="0.6"/><polygon points="161.5,438.5 159.8,434.7 163.2,434.7" fill="#c4c4c4"/><line x1="191.5" y1="318.8" x2="166.1" y2="378.6" stroke="#cfcfcf" stroke-width="0.6"/><polygon points="166.1,378.6 166.0,374.4 169.2,375.8" fill="#c4c4c4"/><line x1="193.0" y1="319.3" x2="164.5" y2="438.8" stroke="#cfcfcf" stroke-width="0.6"/><polygon points="164.5,438.8 163.7,434.7 167.0,435.5" fill="#c4c4c4"/><line x1="223.8" y1="326.3" x2="91.6" y2="478.3" stroke="#cfcfcf" stroke-width="0.6"/><polygon points="91.6,478.3 92.8,474.3 95.4,476.5" fill="#c4c4c4"/><line x1="259.9" y1="326.8" x2="259.9" y2="345.5" stroke="#3a3a3a" stroke-width="0.6"/><polygon points="259.9,345.5 258.2,341.7 261.6,341.7" fill="#2a2a2a"/><line x1="292.7" y1="313.3" x2="292.7" y2="329.4" stroke="#3a3a3a" stroke-width="0.6"/><polygon points="292.7,329.4 291.0,325.6 294.4,325.6" fill="#2a2a2a"/></g>
<g stroke="#5a5a5a" stroke-width="0.6"><circle cx="415.8" cy="10.9" r="5.6" fill="#FF8C00"/><circle cx="415.8" cy="33" r="9.6" fill="#FF8C00"/><circle cx="441.9" cy="36.5" r="9.5" fill="#FF8C00"/><circle cx="396.2" cy="69.3" r="8.8" fill="#FF8C00"/><circle cx="435.7" cy="72.8" r="7.9" fill="#FF8C00"/><circle cx="386.2" cy="102.4" r="7" fill="#FFB347"/><circle cx="406" cy="101.4" r="9.5" fill="#FF8C00"/><circle cx="378.3" cy="137.5" r="4.7" fill="#FFB347"/><circle cx="383.7" cy="136.4" r="3.5" fill="#FFFFFF"/><circle cx="388.3" cy="139.6" r="3.5" fill="#FFB347"/><circle cx="393.5" cy="134.8" r="5.8" fill="#FF8C00"/><circle cx="397.6" cy="141" r="5.5" fill="#FF8C00"/><circle cx="404.6" cy="133.4" r="5.5" fill="#FF8C00"/><circle cx="414.2" cy="134" r="6" fill="#FF8C00"/><circle cx="403.7" cy="140.4" r="5.5" fill="#FF8C00"/><circle cx="409.8" cy="139.9" r="7.4" fill="#FF8C00"/><circle cx="392" cy="174.4" r="3.5" fill="#FFFFFF"/><circle cx="408" cy="181" r="5" fill="#FFB347"/><circle cx="402" cy="171.4" r="5" fill="#FF8C00"/><circle cx="397.6" cy="174.9" r="6" fill="#FF8C00"/><circle cx="414.3" cy="173" r="6.5" fill="#FF8C00"/><circle cx="410.8" cy="174.4" r="7.4" fill="#FF8C00"/><circle cx="395" cy="212.2" r="4" fill="#FF8C00"/><circle cx="402" cy="204.7" r="5" fill="#FF8C00"/><circle cx="397.6" cy="208.2" r="5" fill="#FF8C00"/><circle cx="404.6" cy="211.7" r="5" fill="#FF8C00"/><circle cx="408" cy="208.2" r="6" fill="#FF8C00"/><circle cx="413.9" cy="210.8" r="5.3" fill="#FF8C00"/><circle cx="408.4" cy="220.4" r="6" fill="#FFCF99"/><circle cx="397.6" cy="241.5" r="4" fill="#FFCF99"/><circle cx="401.4" cy="245.8" r="4" fill="#FFCF99"/><circle cx="410.7" cy="243.7" r="5" fill="#FF8C00"/><circle cx="468.5" cy="42" r="8.2" fill="#FF8C00"/><circle cx="494.8" cy="47.7" r="6.1" fill="#FF8C00"/><circle cx="521" cy="42" r="5.6" fill="#FF8C00"/><circle cx="547.3" cy="22.8" r="4.7" fill="#FF8C00"/><circle cx="574" cy="33.2" r="4.7" fill="#FFB347"/><circle cx="547.3" cy="56.4" r="4.2" fill="#FFF5E8"/><circle cx="475.6" cy="80.2" r="3" fill="#FFB347"/><circle cx="468.1" cy="79.7" r="7.9" fill="#FF8C00"/><circle cx="521.6" cy="77.6" r="4.4" fill="#FFB347"/><circle cx="514.6" cy="83.2" r="3.3" fill="#FF8C00"/><circle cx="475.1" cy="116.4" r="3.5" fill="#FFB347"/><circle cx="475.1" cy="154.8" r="3.5" fill="#FFB347"/><circle cx="521" cy="110.3" r="4" fill="#FF8C00"/><circle cx="501.1" cy="143.9" r="4" fill="#FF8C00"/><circle cx="540.8" cy="147.4" r="3.5" fill="#FFB347"/><circle cx="501.4" cy="182.8" r="3.9" fill="#FF8C00"/><circle cx="501.4" cy="223.4" r="3.9" fill="#FF8C00"/><circle cx="527.4" cy="185.9" r="3.5" fill="#FFB347"/><circle cx="540.5" cy="188" r="3.5" fill="#FFB347"/><circle cx="554" cy="186.8" r="3.5" fill="#FFB347"/><circle cx="600" cy="41.2" r="4.2" fill="#FFF5E8"/><circle cx="626.3" cy="53.4" r="4.2" fill="#FFF5E8"/><circle cx="600" cy="75.7" r="3.7" fill="#FF8C00"/><circle cx="652.6" cy="35.6" r="3.7" fill="#FFB347"/><circle cx="652.6" cy="73.2" r="3.7" fill="#FFB347"/></g>
<g stroke="#5a5a5a" stroke-width="0.6"><circle cx="63.1" cy="288.9" r="3.9" fill="#FFF5E8"/><circle cx="63.1" cy="319.2" r="8.4" fill="#FF8C00"/><circle cx="96" cy="332.7" r="7.4" fill="#FF8C00"/><circle cx="88.7" cy="344.3" r="7.7" fill="#FF8C00"/><circle cx="63.1" cy="346.7" r="6.4" fill="#FF8C00"/><circle cx="37.7" cy="346.8" r="6" fill="#FF8C00"/><circle cx="31.2" cy="373" r="4.6" fill="#FF8C00"/><circle cx="44.2" cy="374.7" r="5.6" fill="#FF8C00"/><circle cx="54.9" cy="374.7" r="4.2" fill="#FF8C00"/><circle cx="63.5" cy="375.6" r="3.7" fill="#FF8C00"/><circle cx="71.9" cy="378.2" r="4.7" fill="#FF8C00"/><circle cx="98.5" cy="376.3" r="3.3" fill="#FFFFFF"/><circle cx="78.9" cy="369.4" r="5.4" fill="#FF8C00"/><circle cx="85.4" cy="373.3" r="6" fill="#FF8C00"/><circle cx="92" cy="374.7" r="4.7" fill="#FF8C00"/><circle cx="31.2" cy="400.8" r="4.6" fill="#FF8C00"/><circle cx="44.2" cy="400.8" r="5.6" fill="#FF8C00"/><circle cx="54.9" cy="401.3" r="4.2" fill="#FF8C00"/><circle cx="63.5" cy="404.5" r="3.7" fill="#FF8C00"/><circle cx="77.1" cy="397.8" r="4.9" fill="#FF8C00"/><circle cx="83.8" cy="405.7" r="5.2" fill="#FF8C00"/><circle cx="86.8" cy="399.6" r="5.8" fill="#FF8C00"/><circle cx="92" cy="401" r="3.9" fill="#FFB347"/><circle cx="44.1" cy="427" r="4.9" fill="#FF8C00"/><circle cx="77.2" cy="427" r="3.5" fill="#FFB347"/><circle cx="76.4" cy="422.6" r="3.5" fill="#FF8C00"/><circle cx="85.9" cy="425.7" r="5" fill="#FF8C00"/><circle cx="87.8" cy="430" r="5" fill="#FF8C00"/><circle cx="84" cy="436.8" r="5" fill="#FF8C00"/><circle cx="77.3" cy="455.9" r="3.8" fill="#FFB347"/><circle cx="87.8" cy="456.8" r="4.8" fill="#FF8C00"/><circle cx="87.8" cy="484.5" r="4.2" fill="#FF8C00"/><circle cx="87.8" cy="513.5" r="3.5" fill="#FFB347"/><circle cx="137" cy="290.7" r="3.9" fill="#FFCF99"/><circle cx="210.7" cy="292.8" r="3.5" fill="#FFCF99"/><circle cx="128.6" cy="323.4" r="6.3" fill="#FF8C00"/><circle cx="161.3" cy="326.6" r="6" fill="#FF8C00"/><circle cx="194.3" cy="313.4" r="6" fill="#FF8C00"/><circle cx="128.6" cy="351.4" r="5.6" fill="#FF8C00"/><circle cx="161.3" cy="357.2" r="5.8" fill="#FF8C00"/><circle cx="161.3" cy="386.4" r="5.4" fill="#FF8C00"/><circle cx="161.3" cy="415.3" r="4.4" fill="#FF8C00"/><circle cx="161.6" cy="446.1" r="4.6" fill="#FF8C00"/><circle cx="227.2" cy="322.4" r="5.2" fill="#FF8C00"/><circle cx="259.9" cy="322.1" r="4.7" fill="#FF9C24"/><circle cx="259.9" cy="353.1" r="4.7" fill="#FFCF99"/><circle cx="292.7" cy="308.9" r="4.4" fill="#FF9C24"/><circle cx="292.7" cy="337" r="4.4" fill="#FF8C00"/></g>
<ellipse cx="415.3" cy="133.7" rx="39" ry="113" transform="rotate(0.7 415.3 133.7)" stroke="#FF0000" stroke-width="1.8" stroke-dasharray="4.2 2.1" fill="none"/>
<ellipse cx="489.7" cy="98.9" rx="24.3" ry="62.6" transform="rotate(13.4 489.7 98.9)" stroke="#FF0000" stroke-width="1.8" stroke-dasharray="4.2 2.1" fill="none"/>
<ellipse cx="522.5" cy="132" rx="28" ry="102" stroke="#FF0000" stroke-width="1.8" stroke-dasharray="4.2 2.1" fill="none"/>
<ellipse cx="547.3" cy="38.6" rx="8.8" ry="22.6" stroke="#FF0000" stroke-width="1.8" stroke-dasharray="4.2 2.1" fill="none"/>
<ellipse cx="652.6" cy="54.5" rx="8.2" ry="27" stroke="#FF0000" stroke-width="1.8" stroke-dasharray="4.2 2.1" fill="none"/>
<ellipse cx="67.4" cy="410.3" rx="43" ry="103" stroke="#FF0000" stroke-width="1.8" stroke-dasharray="4.2 2.1" fill="none"/>
<ellipse cx="161.8" cy="385.4" rx="19.2" ry="69" stroke="#FF0000" stroke-width="1.8" stroke-dasharray="4.2 2.1" fill="none"/>
<ellipse cx="260.3" cy="338" rx="8.9" ry="21.8" stroke="#FF0000" stroke-width="1.8" stroke-dasharray="4.2 2.1" fill="none"/>
<ellipse cx="293.2" cy="324.6" rx="8.8" ry="22" stroke="#FF0000" stroke-width="1.8" stroke-dasharray="4.2 2.1" fill="none"/>
<rect x="538" y="69" width="50" height="31" fill="#fff"/>
<rect x="508" y="199" width="62" height="40" fill="#fff"/><rect x="505.8" y="214.5" width="4" height="24" fill="#fff"/>
<rect x="416" y="214.5" width="68" height="29" fill="#fff"/>
<rect x="22" y="474" width="61" height="42" fill="#fff"/>
<line x1="547.5" y1="61.5" x2="553.2" y2="67.2" stroke="#FF0000" stroke-width="1" stroke-dasharray="2.4 1.2"/><polygon points="556.0,70.0 551.9,68.4 554.4,65.9" fill="#FF0000"/>
<line x1="258.2" y1="360.1" x2="250.5" y2="368.1" stroke="#FF0000" stroke-width="1" stroke-dasharray="2.4 1.2"/><polygon points="247.7,371.0 249.2,366.9 251.8,369.4" fill="#FF0000"/>
<line x1="294.2" y1="349.8" x2="295.7" y2="356.1" stroke="#FF0000" stroke-width="1" stroke-dasharray="2.4 1.2"/><polygon points="296.6,360.0 293.9,356.5 297.4,355.7" fill="#FF0000"/>
<g font-family="Liberation Sans, sans-serif" fill="#111" font-size="11">
<text x="496.1" y="18.4" text-anchor="middle" textLength="34.2" lengthAdjust="spacingAndGlyphs">Protein</text><text x="496" y="32.4" text-anchor="middle" textLength="33" lengthAdjust="spacingAndGlyphs">folding</text>
<text x="559.5" y="81.5" text-anchor="middle" textLength="37.5" lengthAdjust="spacingAndGlyphs">Nucleus</text><text x="558.5" y="95.6" text-anchor="middle" textLength="61" lengthAdjust="spacingAndGlyphs">organization</text>
<text x="653" y="93.7" text-anchor="middle" textLength="62.2" lengthAdjust="spacingAndGlyphs">Phospholipid</text><text x="653.2" y="107.7" text-anchor="middle" textLength="59.1" lengthAdjust="spacingAndGlyphs">biosynthesis</text><text x="653.5" y="121.7" text-anchor="middle" textLength="49" lengthAdjust="spacingAndGlyphs">regulation</text>
<text x="449.3" y="226.6" text-anchor="middle" textLength="64.5" lengthAdjust="spacingAndGlyphs">Development</text><text x="451" y="240.6" text-anchor="middle" textLength="48" lengthAdjust="spacingAndGlyphs">processes</text>
<text x="538.2" y="210.3" text-anchor="middle" textLength="35" lengthAdjust="spacingAndGlyphs">Protein</text><text x="538.2" y="224.8" text-anchor="middle" textLength="57.8" lengthAdjust="spacingAndGlyphs">methylation</text>
<text x="52.5" y="484.9" text-anchor="middle" textLength="34.4" lengthAdjust="spacingAndGlyphs">Cellular</text><text x="52.5" y="498.2" text-anchor="middle" textLength="53.4" lengthAdjust="spacingAndGlyphs">component</text><text x="53" y="511.2" text-anchor="middle" textLength="56.3" lengthAdjust="spacingAndGlyphs">organization</text>
<text x="162.8" y="466.4" text-anchor="middle" textLength="42.4" lengthAdjust="spacingAndGlyphs">Cell cycle</text><text x="163" y="479.5" text-anchor="middle" textLength="44.7" lengthAdjust="spacingAndGlyphs">processes</text>
<text x="241.2" y="381.6" text-anchor="middle" textLength="42" lengthAdjust="spacingAndGlyphs">Cell cycle</text><text x="241.5" y="395.3" text-anchor="middle" textLength="27" lengthAdjust="spacingAndGlyphs">phase</text>
<text x="295.4" y="368.4" text-anchor="middle" textLength="48.3" lengthAdjust="spacingAndGlyphs">Chromatin</text><text x="295.4" y="382.1" text-anchor="middle" textLength="56.9" lengthAdjust="spacingAndGlyphs">organization</text>
</g>
</svg></body></html>
